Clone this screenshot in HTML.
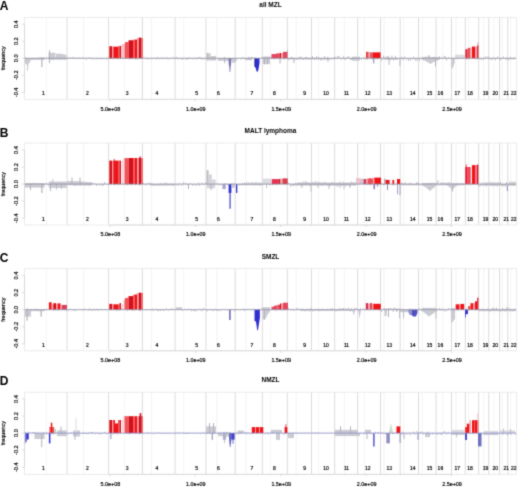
<!DOCTYPE html><html><head><meta charset="utf-8"><style>html,body{margin:0;padding:0;background:#fff;width:520px;height:490px;overflow:hidden}svg{display:block}text{font-family:"Liberation Sans",sans-serif}</style></head><body>
<svg width="520" height="490" viewBox="0 0 520 490">
<defs><filter id="b" x="0" y="0" width="520" height="490" filterUnits="userSpaceOnUse" color-interpolation-filters="sRGB"><feConvolveMatrix order="3" kernelMatrix="0.0225 0.1050 0.0225 0.1050 0.4900 0.1050 0.0225 0.1050 0.0225" divisor="1" edgeMode="duplicate" preserveAlpha="true"/></filter></defs><g filter="url(#b)">
<rect width="520" height="490" fill="#fff"/>
<g>
<line x1="46.35" y1="17.35" x2="46.35" y2="99.33" stroke="#efefef" stroke-width="0.7"/>
<line x1="83.5" y1="17.35" x2="83.5" y2="99.33" stroke="#efefef" stroke-width="0.7"/>
<line x1="124.64" y1="17.35" x2="124.64" y2="99.33" stroke="#efefef" stroke-width="0.7"/>
<line x1="151.5" y1="17.35" x2="151.5" y2="99.33" stroke="#efefef" stroke-width="0.7"/>
<line x1="183.8" y1="17.35" x2="183.8" y2="99.33" stroke="#efefef" stroke-width="0.7"/>
<line x1="216.9" y1="17.35" x2="216.9" y2="99.33" stroke="#efefef" stroke-width="0.7"/>
<line x1="245.9" y1="17.35" x2="245.9" y2="99.33" stroke="#efefef" stroke-width="0.7"/>
<line x1="270.65" y1="17.35" x2="270.65" y2="99.33" stroke="#efefef" stroke-width="0.7"/>
<line x1="296.2" y1="17.35" x2="296.2" y2="99.33" stroke="#efefef" stroke-width="0.7"/>
<line x1="318.85" y1="17.35" x2="318.85" y2="99.33" stroke="#efefef" stroke-width="0.7"/>
<line x1="344.3" y1="17.35" x2="344.3" y2="99.33" stroke="#efefef" stroke-width="0.7"/>
<line x1="364.3" y1="17.35" x2="364.3" y2="99.33" stroke="#efefef" stroke-width="0.7"/>
<line x1="384.1" y1="17.35" x2="384.1" y2="99.33" stroke="#efefef" stroke-width="0.7"/>
<line x1="403.7" y1="17.35" x2="403.7" y2="99.33" stroke="#efefef" stroke-width="0.7"/>
<line x1="422.3" y1="17.35" x2="422.3" y2="99.33" stroke="#efefef" stroke-width="0.7"/>
<line x1="442.8" y1="17.35" x2="442.8" y2="99.33" stroke="#efefef" stroke-width="0.7"/>
<line x1="456.1" y1="17.35" x2="456.1" y2="99.33" stroke="#efefef" stroke-width="0.7"/>
<line x1="468.8" y1="17.35" x2="468.8" y2="99.33" stroke="#efefef" stroke-width="0.7"/>
<line x1="483.7" y1="17.35" x2="483.7" y2="99.33" stroke="#efefef" stroke-width="0.7"/>
<line x1="494" y1="17.35" x2="494" y2="99.33" stroke="#efefef" stroke-width="0.7"/>
<line x1="502.3" y1="17.35" x2="502.3" y2="99.33" stroke="#efefef" stroke-width="0.7"/>
<line x1="510.8" y1="17.35" x2="510.8" y2="99.33" stroke="#efefef" stroke-width="0.7"/>
<line x1="67.07" y1="17.35" x2="67.07" y2="99.33" stroke="#d2d2d2" stroke-width="0.8"/>
<line x1="108.6" y1="17.35" x2="108.6" y2="99.33" stroke="#d2d2d2" stroke-width="0.8"/>
<line x1="142.4" y1="17.35" x2="142.4" y2="99.33" stroke="#d2d2d2" stroke-width="0.8"/>
<line x1="175.06" y1="17.35" x2="175.06" y2="99.33" stroke="#d2d2d2" stroke-width="0.8"/>
<line x1="205.96" y1="17.35" x2="205.96" y2="99.33" stroke="#d2d2d2" stroke-width="0.8"/>
<line x1="235.19" y1="17.35" x2="235.19" y2="99.33" stroke="#d2d2d2" stroke-width="0.8"/>
<line x1="262.36" y1="17.35" x2="262.36" y2="99.33" stroke="#d2d2d2" stroke-width="0.8"/>
<line x1="287.36" y1="17.35" x2="287.36" y2="99.33" stroke="#d2d2d2" stroke-width="0.8"/>
<line x1="311.48" y1="17.35" x2="311.48" y2="99.33" stroke="#d2d2d2" stroke-width="0.8"/>
<line x1="334.63" y1="17.35" x2="334.63" y2="99.33" stroke="#d2d2d2" stroke-width="0.8"/>
<line x1="357.68" y1="17.35" x2="357.68" y2="99.33" stroke="#d2d2d2" stroke-width="0.8"/>
<line x1="380.54" y1="17.35" x2="380.54" y2="99.33" stroke="#d2d2d2" stroke-width="0.8"/>
<line x1="400.21" y1="17.35" x2="400.21" y2="99.33" stroke="#d2d2d2" stroke-width="0.8"/>
<line x1="418.54" y1="17.35" x2="418.54" y2="99.33" stroke="#d2d2d2" stroke-width="0.8"/>
<line x1="436.05" y1="17.35" x2="436.05" y2="99.33" stroke="#d2d2d2" stroke-width="0.8"/>
<line x1="451.48" y1="17.35" x2="451.48" y2="99.33" stroke="#d2d2d2" stroke-width="0.8"/>
<line x1="465.34" y1="17.35" x2="465.34" y2="99.33" stroke="#d2d2d2" stroke-width="0.8"/>
<line x1="478.68" y1="17.35" x2="478.68" y2="99.33" stroke="#d2d2d2" stroke-width="0.8"/>
<line x1="488.78" y1="17.35" x2="488.78" y2="99.33" stroke="#d2d2d2" stroke-width="0.8"/>
<line x1="499.54" y1="17.35" x2="499.54" y2="99.33" stroke="#d2d2d2" stroke-width="0.8"/>
<line x1="507.76" y1="17.35" x2="507.76" y2="99.33" stroke="#d2d2d2" stroke-width="0.8"/>
<rect x="25.3" y="57.17" width="0.7" height="1.08" fill="#a4a4b4"/>
<rect x="26.93" y="58.25" width="0.7" height="0.65" fill="#a4a4b4"/>
<rect x="29.51" y="58.25" width="0.7" height="0.97" fill="#a4a4b4"/>
<rect x="31.84" y="58.25" width="0.7" height="1.37" fill="#a4a4b4"/>
<rect x="33.48" y="58.25" width="0.7" height="1.16" fill="#a4a4b4"/>
<rect x="35.4" y="58.25" width="0.7" height="0.63" fill="#a4a4b4"/>
<rect x="36.97" y="58.25" width="0.7" height="1.42" fill="#a4a4b4"/>
<rect x="38.69" y="57.29" width="0.7" height="0.96" fill="#a4a4b4"/>
<rect x="40.47" y="57.25" width="0.7" height="1" fill="#a4a4b4"/>
<rect x="41.99" y="57.22" width="0.7" height="1.03" fill="#a4a4b4"/>
<rect x="43.35" y="57.55" width="0.7" height="0.7" fill="#a4a4b4"/>
<rect x="45.95" y="57.4" width="0.7" height="0.85" fill="#a4a4b4"/>
<rect x="48.53" y="57.08" width="0.7" height="1.17" fill="#a4a4b4"/>
<rect x="50.09" y="56.8" width="0.7" height="1.45" fill="#a4a4b4"/>
<rect x="51.33" y="56.98" width="0.7" height="1.27" fill="#a4a4b4"/>
<rect x="53.48" y="57.02" width="0.7" height="1.23" fill="#a4a4b4"/>
<rect x="55.27" y="57.57" width="0.7" height="0.68" fill="#a4a4b4"/>
<rect x="56.73" y="56.97" width="0.7" height="1.28" fill="#a4a4b4"/>
<rect x="59" y="58.25" width="0.7" height="1.46" fill="#a4a4b4"/>
<rect x="60.37" y="57.41" width="0.7" height="0.84" fill="#a4a4b4"/>
<rect x="61.8" y="57.47" width="0.7" height="0.78" fill="#a4a4b4"/>
<rect x="63.1" y="57.54" width="0.7" height="0.71" fill="#a4a4b4"/>
<rect x="65.06" y="58.25" width="0.7" height="1.43" fill="#a4a4b4"/>
<rect x="67.87" y="57.05" width="0.7" height="1.2" fill="#a4a4b4"/>
<rect x="70.11" y="57.18" width="0.7" height="1.07" fill="#a4a4b4"/>
<rect x="72.08" y="57.01" width="0.7" height="1.24" fill="#a4a4b4"/>
<rect x="73.72" y="57.3" width="0.7" height="0.95" fill="#a4a4b4"/>
<rect x="75.61" y="58.25" width="0.7" height="0.86" fill="#a4a4b4"/>
<rect x="77.7" y="57.27" width="0.7" height="0.98" fill="#a4a4b4"/>
<rect x="79.2" y="58.25" width="0.7" height="0.66" fill="#a4a4b4"/>
<rect x="81.05" y="57.48" width="0.7" height="0.77" fill="#a4a4b4"/>
<rect x="83.23" y="57.25" width="0.7" height="1" fill="#a4a4b4"/>
<rect x="85.78" y="58.25" width="0.7" height="1.3" fill="#a4a4b4"/>
<rect x="88.07" y="57.56" width="0.7" height="0.69" fill="#a4a4b4"/>
<rect x="90.21" y="57.47" width="0.7" height="0.78" fill="#a4a4b4"/>
<rect x="91.86" y="58.25" width="0.7" height="1.06" fill="#a4a4b4"/>
<rect x="93.62" y="58.25" width="0.7" height="1.09" fill="#a4a4b4"/>
<rect x="95.93" y="58.25" width="0.7" height="1.02" fill="#a4a4b4"/>
<rect x="97.21" y="58.25" width="0.7" height="0.68" fill="#a4a4b4"/>
<rect x="98.71" y="58.25" width="0.7" height="1.19" fill="#a4a4b4"/>
<rect x="101.19" y="58.25" width="0.7" height="1.2" fill="#a4a4b4"/>
<rect x="103.58" y="58.25" width="0.7" height="0.84" fill="#a4a4b4"/>
<rect x="106.07" y="58.25" width="0.7" height="1.14" fill="#a4a4b4"/>
<rect x="109.4" y="58.25" width="0.7" height="0.72" fill="#a4a4b4"/>
<rect x="111.08" y="58.25" width="0.7" height="0.74" fill="#a4a4b4"/>
<rect x="112.32" y="58.25" width="0.7" height="0.93" fill="#a4a4b4"/>
<rect x="113.8" y="57.64" width="0.7" height="0.61" fill="#a4a4b4"/>
<rect x="115.72" y="57.14" width="0.7" height="1.11" fill="#a4a4b4"/>
<rect x="117.91" y="58.25" width="0.7" height="1.19" fill="#a4a4b4"/>
<rect x="120.08" y="58.25" width="0.7" height="0.65" fill="#a4a4b4"/>
<rect x="122.43" y="56.94" width="0.7" height="1.31" fill="#a4a4b4"/>
<rect x="124.36" y="57.62" width="0.7" height="0.63" fill="#a4a4b4"/>
<rect x="126.15" y="58.25" width="0.7" height="0.55" fill="#a4a4b4"/>
<rect x="128.19" y="58.25" width="0.7" height="0.59" fill="#a4a4b4"/>
<rect x="129.7" y="58.25" width="0.7" height="1.25" fill="#a4a4b4"/>
<rect x="130.91" y="56.92" width="0.7" height="1.33" fill="#a4a4b4"/>
<rect x="133.14" y="56.94" width="0.7" height="1.31" fill="#a4a4b4"/>
<rect x="134.99" y="58.25" width="0.7" height="1.28" fill="#a4a4b4"/>
<rect x="137.35" y="58.25" width="0.7" height="1.32" fill="#a4a4b4"/>
<rect x="139.15" y="56.99" width="0.7" height="1.26" fill="#a4a4b4"/>
<rect x="140.66" y="57.05" width="0.7" height="1.2" fill="#a4a4b4"/>
<rect x="143.2" y="57.54" width="0.7" height="0.71" fill="#a4a4b4"/>
<rect x="144.74" y="57.67" width="0.7" height="0.58" fill="#a4a4b4"/>
<rect x="147.13" y="58.25" width="0.7" height="1.27" fill="#a4a4b4"/>
<rect x="149.37" y="58.25" width="0.7" height="0.91" fill="#a4a4b4"/>
<rect x="151.5" y="58.25" width="0.7" height="1.13" fill="#a4a4b4"/>
<rect x="153.76" y="57.69" width="0.7" height="0.56" fill="#a4a4b4"/>
<rect x="155.61" y="58.25" width="0.7" height="1.18" fill="#a4a4b4"/>
<rect x="157.44" y="56.92" width="0.7" height="1.33" fill="#a4a4b4"/>
<rect x="158.93" y="58.25" width="0.7" height="0.91" fill="#a4a4b4"/>
<rect x="161.2" y="57.28" width="0.7" height="0.97" fill="#a4a4b4"/>
<rect x="162.59" y="58.25" width="0.7" height="0.83" fill="#a4a4b4"/>
<rect x="164.19" y="57.68" width="0.7" height="0.57" fill="#a4a4b4"/>
<rect x="166.35" y="57.28" width="0.7" height="0.97" fill="#a4a4b4"/>
<rect x="167.74" y="58.25" width="0.7" height="1.25" fill="#a4a4b4"/>
<rect x="170.11" y="57.66" width="0.7" height="0.59" fill="#a4a4b4"/>
<rect x="172.61" y="57.38" width="0.7" height="0.87" fill="#a4a4b4"/>
<rect x="175.86" y="56.78" width="0.7" height="1.47" fill="#a4a4b4"/>
<rect x="177.81" y="58.25" width="0.7" height="1.26" fill="#a4a4b4"/>
<rect x="179.54" y="58.25" width="0.7" height="0.73" fill="#a4a4b4"/>
<rect x="181.47" y="58.25" width="0.7" height="1.46" fill="#a4a4b4"/>
<rect x="182.77" y="58.25" width="0.7" height="1.2" fill="#a4a4b4"/>
<rect x="184.53" y="58.25" width="0.7" height="0.63" fill="#a4a4b4"/>
<rect x="185.99" y="58.25" width="0.7" height="1.44" fill="#a4a4b4"/>
<rect x="187.56" y="58.25" width="0.7" height="1.41" fill="#a4a4b4"/>
<rect x="188.88" y="57.27" width="0.7" height="0.98" fill="#a4a4b4"/>
<rect x="190.95" y="58.25" width="0.7" height="0.75" fill="#a4a4b4"/>
<rect x="192.77" y="58.25" width="0.7" height="1.16" fill="#a4a4b4"/>
<rect x="194.59" y="57.48" width="0.7" height="0.77" fill="#a4a4b4"/>
<rect x="196.28" y="58.25" width="0.7" height="1.28" fill="#a4a4b4"/>
<rect x="198.22" y="57.04" width="0.7" height="1.21" fill="#a4a4b4"/>
<rect x="199.74" y="56.89" width="0.7" height="1.36" fill="#a4a4b4"/>
<rect x="201.09" y="58.25" width="0.7" height="1.47" fill="#a4a4b4"/>
<rect x="203.23" y="58.25" width="0.7" height="1.38" fill="#a4a4b4"/>
<rect x="204.67" y="58.25" width="0.7" height="0.73" fill="#a4a4b4"/>
<rect x="206.76" y="58.25" width="0.7" height="1.26" fill="#a4a4b4"/>
<rect x="208.56" y="57.52" width="0.7" height="0.73" fill="#a4a4b4"/>
<rect x="210.71" y="58.25" width="0.7" height="1.01" fill="#a4a4b4"/>
<rect x="212.67" y="58.25" width="0.7" height="0.99" fill="#a4a4b4"/>
<rect x="214.65" y="58.25" width="0.7" height="0.72" fill="#a4a4b4"/>
<rect x="217.13" y="58.25" width="0.7" height="0.95" fill="#a4a4b4"/>
<rect x="218.99" y="58.25" width="0.7" height="1.47" fill="#a4a4b4"/>
<rect x="221.49" y="58.25" width="0.7" height="1.11" fill="#a4a4b4"/>
<rect x="222.93" y="58.25" width="0.7" height="0.89" fill="#a4a4b4"/>
<rect x="224.3" y="57" width="0.7" height="1.25" fill="#a4a4b4"/>
<rect x="225.52" y="58.25" width="0.7" height="1.34" fill="#a4a4b4"/>
<rect x="227.27" y="58.25" width="0.7" height="0.7" fill="#a4a4b4"/>
<rect x="228.54" y="58.25" width="0.7" height="1.32" fill="#a4a4b4"/>
<rect x="230.43" y="58.25" width="0.7" height="1.08" fill="#a4a4b4"/>
<rect x="232.54" y="58.25" width="0.7" height="0.67" fill="#a4a4b4"/>
<rect x="235.99" y="58.25" width="0.7" height="1.39" fill="#a4a4b4"/>
<rect x="238.04" y="58.25" width="0.7" height="0.61" fill="#a4a4b4"/>
<rect x="240.52" y="58.25" width="0.7" height="1.45" fill="#a4a4b4"/>
<rect x="242.67" y="56.93" width="0.7" height="1.32" fill="#a4a4b4"/>
<rect x="243.95" y="58.25" width="0.7" height="0.82" fill="#a4a4b4"/>
<rect x="245.75" y="58.25" width="0.7" height="1.09" fill="#a4a4b4"/>
<rect x="248.15" y="57.12" width="0.7" height="1.13" fill="#a4a4b4"/>
<rect x="249.75" y="56.95" width="0.7" height="1.3" fill="#a4a4b4"/>
<rect x="251.12" y="57.17" width="0.7" height="1.08" fill="#a4a4b4"/>
<rect x="252.43" y="57.19" width="0.7" height="1.06" fill="#a4a4b4"/>
<rect x="254.79" y="57.29" width="0.7" height="0.96" fill="#a4a4b4"/>
<rect x="256.96" y="58.25" width="0.7" height="0.74" fill="#a4a4b4"/>
<rect x="258.25" y="58.25" width="0.7" height="1.03" fill="#a4a4b4"/>
<rect x="260.73" y="57.33" width="0.7" height="0.92" fill="#a4a4b4"/>
<rect x="263.16" y="57.17" width="0.7" height="1.08" fill="#a4a4b4"/>
<rect x="265.63" y="57.29" width="0.7" height="0.96" fill="#a4a4b4"/>
<rect x="267.3" y="58.25" width="0.7" height="0.99" fill="#a4a4b4"/>
<rect x="268.76" y="58.25" width="0.7" height="0.88" fill="#a4a4b4"/>
<rect x="271.3" y="56.97" width="0.7" height="1.28" fill="#a4a4b4"/>
<rect x="272.63" y="58.25" width="0.7" height="0.77" fill="#a4a4b4"/>
<rect x="274.09" y="58.25" width="0.7" height="1.35" fill="#a4a4b4"/>
<rect x="276.58" y="58.25" width="0.7" height="0.68" fill="#a4a4b4"/>
<rect x="279.09" y="58.25" width="0.7" height="1.31" fill="#a4a4b4"/>
<rect x="280.36" y="57.26" width="0.7" height="0.99" fill="#a4a4b4"/>
<rect x="281.91" y="58.25" width="0.7" height="1.13" fill="#a4a4b4"/>
<rect x="284.36" y="58.25" width="0.7" height="1.33" fill="#a4a4b4"/>
<rect x="285.93" y="57.09" width="0.7" height="1.16" fill="#a4a4b4"/>
<rect x="288.16" y="58.25" width="0.7" height="2.03" fill="#a4a4b4"/>
<rect x="290.56" y="56.93" width="0.7" height="1.32" fill="#a4a4b4"/>
<rect x="291.9" y="56.9" width="0.7" height="1.35" fill="#a4a4b4"/>
<rect x="293.72" y="58.25" width="0.7" height="2.13" fill="#a4a4b4"/>
<rect x="296.13" y="58.25" width="0.7" height="0.99" fill="#a4a4b4"/>
<rect x="297.56" y="58.25" width="0.7" height="1.2" fill="#a4a4b4"/>
<rect x="299.37" y="56.59" width="0.7" height="1.66" fill="#a4a4b4"/>
<rect x="300.83" y="56.72" width="0.7" height="1.53" fill="#a4a4b4"/>
<rect x="303.17" y="58.25" width="0.7" height="1.72" fill="#a4a4b4"/>
<rect x="305.21" y="57.04" width="0.7" height="1.21" fill="#a4a4b4"/>
<rect x="306.57" y="57.13" width="0.7" height="1.12" fill="#a4a4b4"/>
<rect x="307.85" y="58.25" width="0.7" height="1.43" fill="#a4a4b4"/>
<rect x="310.42" y="58.25" width="0.7" height="1.09" fill="#a4a4b4"/>
<rect x="312.28" y="56.01" width="0.7" height="2.24" fill="#a4a4b4"/>
<rect x="314.51" y="58.25" width="0.7" height="1.53" fill="#a4a4b4"/>
<rect x="316.06" y="56.21" width="0.7" height="2.04" fill="#a4a4b4"/>
<rect x="318.35" y="56.9" width="0.7" height="1.35" fill="#a4a4b4"/>
<rect x="320.24" y="58.25" width="0.7" height="2.22" fill="#a4a4b4"/>
<rect x="321.77" y="58.25" width="0.7" height="2.17" fill="#a4a4b4"/>
<rect x="324.05" y="56" width="0.7" height="2.25" fill="#a4a4b4"/>
<rect x="325.62" y="58.25" width="0.7" height="1.91" fill="#a4a4b4"/>
<rect x="327.44" y="56.82" width="0.7" height="1.43" fill="#a4a4b4"/>
<rect x="328.72" y="58.25" width="0.7" height="1.61" fill="#a4a4b4"/>
<rect x="330.57" y="58.25" width="0.7" height="1.4" fill="#a4a4b4"/>
<rect x="332.57" y="58.25" width="0.7" height="1.26" fill="#a4a4b4"/>
<rect x="333.77" y="56.76" width="0.7" height="1.49" fill="#a4a4b4"/>
<rect x="335.43" y="57.18" width="0.7" height="1.07" fill="#a4a4b4"/>
<rect x="337.28" y="56.16" width="0.7" height="2.09" fill="#a4a4b4"/>
<rect x="338.69" y="56.1" width="0.7" height="2.15" fill="#a4a4b4"/>
<rect x="340.98" y="58.25" width="0.7" height="1.61" fill="#a4a4b4"/>
<rect x="343.3" y="56.3" width="0.7" height="1.95" fill="#a4a4b4"/>
<rect x="344.68" y="58.25" width="0.7" height="2" fill="#a4a4b4"/>
<rect x="346.77" y="56.8" width="0.7" height="1.45" fill="#a4a4b4"/>
<rect x="348.42" y="56.13" width="0.7" height="2.12" fill="#a4a4b4"/>
<rect x="350.03" y="58.25" width="0.7" height="1.63" fill="#a4a4b4"/>
<rect x="351.3" y="58.25" width="0.7" height="1.67" fill="#a4a4b4"/>
<rect x="353.51" y="58.25" width="0.7" height="1.34" fill="#a4a4b4"/>
<rect x="355.01" y="56.66" width="0.7" height="1.59" fill="#a4a4b4"/>
<rect x="358.48" y="58.25" width="0.7" height="1.33" fill="#a4a4b4"/>
<rect x="361.04" y="58.25" width="0.7" height="1.41" fill="#a4a4b4"/>
<rect x="363.54" y="57.06" width="0.7" height="1.19" fill="#a4a4b4"/>
<rect x="364.93" y="58.25" width="0.7" height="1.41" fill="#a4a4b4"/>
<rect x="366.82" y="58.25" width="0.7" height="1.72" fill="#a4a4b4"/>
<rect x="368.84" y="56.88" width="0.7" height="1.37" fill="#a4a4b4"/>
<rect x="370.13" y="56.65" width="0.7" height="1.6" fill="#a4a4b4"/>
<rect x="371.98" y="58.25" width="0.7" height="1.72" fill="#a4a4b4"/>
<rect x="374.26" y="56.56" width="0.7" height="1.69" fill="#a4a4b4"/>
<rect x="375.53" y="58.25" width="0.7" height="1.06" fill="#a4a4b4"/>
<rect x="377.38" y="58.25" width="0.7" height="1.46" fill="#a4a4b4"/>
<rect x="378.67" y="57.18" width="0.7" height="1.07" fill="#a4a4b4"/>
<rect x="381.34" y="58.25" width="0.7" height="2.67" fill="#a4a4b4"/>
<rect x="383.09" y="55.73" width="0.7" height="2.52" fill="#a4a4b4"/>
<rect x="385.59" y="56.27" width="0.7" height="1.98" fill="#a4a4b4"/>
<rect x="386.88" y="56.62" width="0.7" height="1.63" fill="#a4a4b4"/>
<rect x="388.25" y="55.99" width="0.7" height="2.26" fill="#a4a4b4"/>
<rect x="389.78" y="58.25" width="0.7" height="1.97" fill="#a4a4b4"/>
<rect x="391.58" y="55.58" width="0.7" height="2.67" fill="#a4a4b4"/>
<rect x="393.47" y="58.25" width="0.7" height="2.12" fill="#a4a4b4"/>
<rect x="394.98" y="55.82" width="0.7" height="2.43" fill="#a4a4b4"/>
<rect x="397.27" y="58.25" width="0.7" height="1.83" fill="#a4a4b4"/>
<rect x="401.01" y="56.92" width="0.7" height="1.33" fill="#a4a4b4"/>
<rect x="402.69" y="58.25" width="0.7" height="2" fill="#a4a4b4"/>
<rect x="403.98" y="56.65" width="0.7" height="1.6" fill="#a4a4b4"/>
<rect x="405.94" y="58.25" width="0.7" height="1.35" fill="#a4a4b4"/>
<rect x="408.04" y="58.25" width="0.7" height="2.63" fill="#a4a4b4"/>
<rect x="409.94" y="58.25" width="0.7" height="2.54" fill="#a4a4b4"/>
<rect x="411.95" y="58.25" width="0.7" height="1.28" fill="#a4a4b4"/>
<rect x="413.43" y="56.62" width="0.7" height="1.63" fill="#a4a4b4"/>
<rect x="414.73" y="58.25" width="0.7" height="2.54" fill="#a4a4b4"/>
<rect x="416.63" y="58.25" width="0.7" height="2.98" fill="#a4a4b4"/>
<rect x="419.34" y="58.25" width="0.7" height="2.34" fill="#a4a4b4"/>
<rect x="421.77" y="58.25" width="0.7" height="1.44" fill="#a4a4b4"/>
<rect x="423.44" y="58.25" width="0.7" height="2.26" fill="#a4a4b4"/>
<rect x="425.49" y="56.35" width="0.7" height="1.9" fill="#a4a4b4"/>
<rect x="427.89" y="55.46" width="0.7" height="2.79" fill="#a4a4b4"/>
<rect x="429.25" y="55.49" width="0.7" height="2.76" fill="#a4a4b4"/>
<rect x="431.81" y="58.25" width="0.7" height="1.84" fill="#a4a4b4"/>
<rect x="433.66" y="56.36" width="0.7" height="1.89" fill="#a4a4b4"/>
<rect x="436.85" y="58.25" width="0.7" height="2.29" fill="#a4a4b4"/>
<rect x="439.05" y="56.2" width="0.7" height="2.05" fill="#a4a4b4"/>
<rect x="441.44" y="57.25" width="0.7" height="1" fill="#a4a4b4"/>
<rect x="443.72" y="55.9" width="0.7" height="2.35" fill="#a4a4b4"/>
<rect x="444.99" y="56.53" width="0.7" height="1.72" fill="#a4a4b4"/>
<rect x="446.47" y="58.25" width="0.7" height="2.29" fill="#a4a4b4"/>
<rect x="448.52" y="57.2" width="0.7" height="1.05" fill="#a4a4b4"/>
<rect x="452.28" y="58.25" width="0.7" height="0.88" fill="#a4a4b4"/>
<rect x="453.75" y="58.25" width="0.7" height="0.89" fill="#a4a4b4"/>
<rect x="456.16" y="58.25" width="0.7" height="0.65" fill="#a4a4b4"/>
<rect x="457.67" y="58.25" width="0.7" height="1.12" fill="#a4a4b4"/>
<rect x="460.04" y="56.78" width="0.7" height="1.47" fill="#a4a4b4"/>
<rect x="461.86" y="56.91" width="0.7" height="1.34" fill="#a4a4b4"/>
<rect x="463.11" y="58.25" width="0.7" height="0.72" fill="#a4a4b4"/>
<rect x="466.14" y="58.25" width="0.7" height="1.19" fill="#a4a4b4"/>
<rect x="467.73" y="58.25" width="0.7" height="1.36" fill="#a4a4b4"/>
<rect x="469.39" y="56.83" width="0.7" height="1.42" fill="#a4a4b4"/>
<rect x="471.45" y="57.41" width="0.7" height="0.84" fill="#a4a4b4"/>
<rect x="472.91" y="56.92" width="0.7" height="1.33" fill="#a4a4b4"/>
<rect x="474.71" y="58.25" width="0.7" height="0.67" fill="#a4a4b4"/>
<rect x="476.12" y="58.25" width="0.7" height="1.47" fill="#a4a4b4"/>
<rect x="477.37" y="57.21" width="0.7" height="1.04" fill="#a4a4b4"/>
<rect x="479.48" y="58.25" width="0.7" height="1.03" fill="#a4a4b4"/>
<rect x="480.89" y="58.25" width="0.7" height="1.94" fill="#a4a4b4"/>
<rect x="483.4" y="58.25" width="0.7" height="1.63" fill="#a4a4b4"/>
<rect x="485.1" y="56.48" width="0.7" height="1.77" fill="#a4a4b4"/>
<rect x="487.62" y="56.14" width="0.7" height="2.11" fill="#a4a4b4"/>
<rect x="489.58" y="58.25" width="0.7" height="1.33" fill="#a4a4b4"/>
<rect x="491.59" y="58.25" width="0.7" height="2.08" fill="#a4a4b4"/>
<rect x="493" y="57.32" width="0.7" height="0.93" fill="#a4a4b4"/>
<rect x="494.9" y="58.25" width="0.7" height="2.13" fill="#a4a4b4"/>
<rect x="497.04" y="56.48" width="0.7" height="1.77" fill="#a4a4b4"/>
<rect x="500.34" y="58.25" width="0.7" height="2.07" fill="#a4a4b4"/>
<rect x="502.86" y="56.48" width="0.7" height="1.77" fill="#a4a4b4"/>
<rect x="505.2" y="58.25" width="0.7" height="1.2" fill="#a4a4b4"/>
<rect x="506.54" y="58.25" width="0.7" height="1.66" fill="#a4a4b4"/>
<rect x="508.56" y="58.25" width="0.7" height="2.07" fill="#a4a4b4"/>
<rect x="509.85" y="57.1" width="0.7" height="1.15" fill="#a4a4b4"/>
<rect x="511.48" y="58.25" width="0.7" height="1.21" fill="#a4a4b4"/>
<rect x="513.43" y="58.25" width="0.7" height="1.6" fill="#a4a4b4"/>
<rect x="514.67" y="57.33" width="0.7" height="0.92" fill="#a4a4b4"/>
<polygon points="24.5,58.25 24.5,61.75 25.5,63.75 26.8,64.75 27.2,70.95 27.9,70.95 28.3,64.25 30,61.75 31,60.25 31,58.25" fill="#cbcbd3"/>
<rect x="31" y="58.25" width="14" height="1.6" fill="#cbcbd3"/>
<rect x="41.3" y="58.25" width="1.2" height="8.9" fill="#b4b4c0"/>
<rect x="48.5" y="52.75" width="7" height="5.5" fill="#cbcbd3"/>
<rect x="49" y="50.25" width="1" height="8" fill="#b4b4c0"/>
<rect x="48.5" y="58.25" width="7" height="1.8" fill="#cbcbd3"/>
<rect x="49" y="58.25" width="1" height="5" fill="#b4b4c0"/>
<polygon points="56,58.25 56,53.65 61,53.85 66.6,55.05 66.6,58.25" fill="#cbcbd3"/>
<rect x="56" y="58.25" width="10.6" height="1.5" fill="#cbcbd3"/>
<rect x="206.3" y="53.25" width="4.3" height="5" fill="#cbcbd3"/>
<rect x="207.2" y="52.75" width="0.7" height="5.5" fill="#b4b4c0"/>
<rect x="210.6" y="56.05" width="5.4" height="2.2" fill="#cbcbd3"/>
<rect x="206" y="58.25" width="10" height="2.2" fill="#cbcbd3"/>
<rect x="218" y="58.25" width="19" height="2.6" fill="#cbcbd3"/>
<rect x="224.3" y="58.25" width="1" height="5" fill="#b4b4c0"/>
<polygon points="228.6,58.25 228.6,63.25 229.3,67.25 229.6,71.95 230.3,71.95 230.6,67.25 231.2,63.25 231.2,58.25" fill="#7878b4"/>
<rect x="232" y="58.25" width="4" height="4.5" fill="#cbcbd3"/>
<rect x="245" y="58.25" width="7" height="2" fill="#cbcbd3"/>
<polygon points="254.6,58.25 254.6,66.55 255.8,68.25 256.5,71.25 257.3,71.95 258.3,70.25 259,66.25 259.5,63.25 259.5,58.25" fill="#3030d0"/>
<rect x="254.6" y="58.25" width="1.2" height="8.3" fill="#2828a0"/>
<rect x="262.5" y="56.45" width="8.5" height="1.8" fill="#cbcbd3"/>
<rect x="262.5" y="58.25" width="7.5" height="5.8" fill="#cbcbd3"/>
<rect x="264" y="58.25" width="1" height="6.2" fill="#b4b4c0"/>
<rect x="267" y="58.25" width="1" height="6" fill="#b4b4c0"/>
<rect x="271.5" y="54.05" width="4.5" height="4.2" fill="#e4485e"/>
<rect x="276" y="53.45" width="3.6" height="4.8" fill="#e4485e"/>
<rect x="279.6" y="52.95" width="1.4" height="5.3" fill="#d2101c"/>
<rect x="281" y="52.95" width="2" height="5.3" fill="#f6a0a6"/>
<rect x="283" y="51.85" width="5" height="6.4" fill="#e4485e"/>
<rect x="287.2" y="49.55" width="0.7" height="8.7" fill="#b4b4c0"/>
<rect x="279.6" y="58.25" width="1" height="5.4" fill="#b4b4c0"/>
<rect x="293.5" y="58.25" width="1" height="4.7" fill="#b4b4c0"/>
<rect x="288" y="58.25" width="42" height="1.2" fill="#cbcbd3"/>
<rect x="327.5" y="58.25" width="1" height="3.5" fill="#b4b4c0"/>
<rect x="352" y="58.25" width="8" height="2.5" fill="#cbcbd3"/>
<rect x="352" y="56.75" width="8" height="1.5" fill="#cbcbd3"/>
<rect x="366.2" y="51.85" width="1.2" height="6.4" fill="#d2101c"/>
<rect x="367.4" y="51.85" width="1.2" height="6.4" fill="#f01418"/>
<rect x="368.6" y="52.35" width="1.4" height="5.9" fill="#f0a8a8"/>
<rect x="370" y="52.35" width="3" height="5.9" fill="#e85868"/>
<rect x="373" y="52.35" width="7.6" height="5.9" fill="#f01418"/>
<rect x="373.2" y="58.25" width="1.1" height="5.2" fill="#8c8cbc"/>
<rect x="383" y="58.25" width="15" height="1.5" fill="#cbcbd3"/>
<rect x="388.5" y="58.25" width="1" height="6.5" fill="#b4b4c0"/>
<rect x="399.5" y="58.25" width="1" height="7.6" fill="#b4b4c0"/>
<rect x="422" y="57.05" width="18" height="1.2" fill="#cbcbd3"/>
<polygon points="421.9,58.25 421.9,59.25 426,61.25 430.3,64.05 434,61.75 440.4,59.25 440.4,58.25" fill="#cbcbd3"/>
<rect x="435" y="58.25" width="1" height="8" fill="#b4b4c0"/>
<polygon points="451,58.25 451,67.75 452.5,68.75 454.7,62.75 454.7,58.25" fill="#cbcbd3"/>
<rect x="455" y="54.65" width="10" height="3.6" fill="#dcdce2"/>
<rect x="465.3" y="49.25" width="2.4" height="9" fill="#e4283c"/>
<rect x="467.7" y="47.85" width="3" height="10.4" fill="#e8505e"/>
<rect x="470.7" y="47.75" width="1.2" height="10.5" fill="#f8dada"/>
<rect x="471.9" y="46.55" width="3.1" height="11.7" fill="#f01418"/>
<rect x="475" y="46.55" width="2" height="11.7" fill="#f6a0a6"/>
<rect x="477" y="45.45" width="1.4" height="12.8" fill="#d2101c"/>
<rect x="477.6" y="42.25" width="0.7" height="16" fill="#e07080"/>
<rect x="108.9" y="46.25" width="0.5" height="12" fill="#f6a0a6"/>
<rect x="109.4" y="46.25" width="2.6" height="12" fill="#d2101c"/>
<rect x="112" y="46.25" width="1.3" height="12" fill="#f6a0a6"/>
<rect x="113.3" y="46.65" width="4.7" height="11.6" fill="#f01418"/>
<rect x="118" y="46.25" width="1.5" height="12" fill="#f05458"/>
<rect x="119.5" y="45.95" width="1.5" height="12.3" fill="#d2101c"/>
<rect x="121" y="44.45" width="1.4" height="13.8" fill="#f8caca"/>
<rect x="122.4" y="44.45" width="0.6" height="13.8" fill="#f6a0a6"/>
<rect x="123" y="44.45" width="0.7" height="13.8" fill="#f8caca"/>
<rect x="123.7" y="43.75" width="1.3" height="14.5" fill="#f6a0a6"/>
<rect x="125" y="42.05" width="3.5" height="16.2" fill="#f05458"/>
<rect x="128.5" y="40.25" width="4.5" height="18" fill="#d2101c"/>
<rect x="133" y="39.75" width="1.5" height="18.5" fill="#f05458"/>
<rect x="134.5" y="39.55" width="2.5" height="18.7" fill="#f01418"/>
<rect x="137" y="38.05" width="1.7" height="20.2" fill="#f6a0a6"/>
<rect x="138.7" y="37.65" width="2.8" height="20.6" fill="#d2101c"/>
<rect x="141.5" y="38.05" width="1.3" height="20.2" fill="#f05458"/>
<line x1="24.5" y1="58.25" x2="516.5" y2="58.25" stroke="#8e8e9e" stroke-width="0.8"/>
<rect x="24.5" y="17.35" width="492" height="81.98" fill="none" stroke="#e6e6e6" stroke-width="0.8"/>
<line x1="24.5" y1="24.15" x2="24.5" y2="92.35" stroke="#d6d6d6" stroke-width="0.8"/>
<line x1="109.9" y1="99.33" x2="451.5" y2="99.33" stroke="#d6d6d6" stroke-width="0.8"/>
<line x1="21.8" y1="24.15" x2="24.5" y2="24.15" stroke="#c8c8c8" stroke-width="0.6"/>
<text transform="translate(18.1,24.15) rotate(-90)" text-anchor="middle" font-size="5.6" fill="#000" stroke="#000" stroke-width="0.18">0.4</text>
<line x1="21.8" y1="41.2" x2="24.5" y2="41.2" stroke="#c8c8c8" stroke-width="0.6"/>
<text transform="translate(18.1,41.2) rotate(-90)" text-anchor="middle" font-size="5.6" fill="#000" stroke="#000" stroke-width="0.18">0.2</text>
<line x1="21.8" y1="58.25" x2="24.5" y2="58.25" stroke="#c8c8c8" stroke-width="0.6"/>
<text transform="translate(18.1,58.25) rotate(-90)" text-anchor="middle" font-size="5.6" fill="#000" stroke="#000" stroke-width="0.18">0.0</text>
<line x1="21.8" y1="75.3" x2="24.5" y2="75.3" stroke="#c8c8c8" stroke-width="0.6"/>
<text transform="translate(18.1,75.3) rotate(-90)" text-anchor="middle" font-size="5.6" fill="#000" stroke="#000" stroke-width="0.18">-0.2</text>
<line x1="21.8" y1="92.35" x2="24.5" y2="92.35" stroke="#c8c8c8" stroke-width="0.6"/>
<text transform="translate(18.1,92.35) rotate(-90)" text-anchor="middle" font-size="5.6" fill="#000" stroke="#000" stroke-width="0.18">-0.4</text>
<text transform="translate(4.7,58.25) rotate(-90)" text-anchor="middle" font-size="5.5" fill="#000" stroke="#000" stroke-width="0.18">frequency</text>
<line x1="109.9" y1="99.33" x2="109.9" y2="101.33" stroke="#c8c8c8" stroke-width="0.6"/>
<text x="110.4" y="110.73" text-anchor="middle" font-size="5.4" fill="#000" stroke="#000" stroke-width="0.18">5.0e+08</text>
<line x1="195.3" y1="99.33" x2="195.3" y2="101.33" stroke="#c8c8c8" stroke-width="0.6"/>
<text x="195.8" y="110.73" text-anchor="middle" font-size="5.4" fill="#000" stroke="#000" stroke-width="0.18">1.0e+09</text>
<line x1="280.7" y1="99.33" x2="280.7" y2="101.33" stroke="#c8c8c8" stroke-width="0.6"/>
<text x="281.2" y="110.73" text-anchor="middle" font-size="5.4" fill="#000" stroke="#000" stroke-width="0.18">1.5e+09</text>
<line x1="366.1" y1="99.33" x2="366.1" y2="101.33" stroke="#c8c8c8" stroke-width="0.6"/>
<text x="366.6" y="110.73" text-anchor="middle" font-size="5.4" fill="#000" stroke="#000" stroke-width="0.18">2.0e+09</text>
<line x1="451.5" y1="99.33" x2="451.5" y2="101.33" stroke="#c8c8c8" stroke-width="0.6"/>
<text x="452" y="110.73" text-anchor="middle" font-size="5.4" fill="#000" stroke="#000" stroke-width="0.18">2.5e+09</text>
<text x="43.5" y="95.13" text-anchor="middle" font-size="5.0" fill="#000" stroke="#000" stroke-width="0.18">1</text>
<text x="87.5" y="95.13" text-anchor="middle" font-size="5.0" fill="#000" stroke="#000" stroke-width="0.18">2</text>
<text x="127.1" y="95.13" text-anchor="middle" font-size="5.0" fill="#000" stroke="#000" stroke-width="0.18">3</text>
<text x="156.9" y="95.13" text-anchor="middle" font-size="5.0" fill="#000" stroke="#000" stroke-width="0.18">4</text>
<text x="196.7" y="95.13" text-anchor="middle" font-size="5.0" fill="#000" stroke="#000" stroke-width="0.18">5</text>
<text x="218.3" y="95.13" text-anchor="middle" font-size="5.0" fill="#000" stroke="#000" stroke-width="0.18">6</text>
<text x="251.8" y="95.13" text-anchor="middle" font-size="5.0" fill="#000" stroke="#000" stroke-width="0.18">7</text>
<text x="274.4" y="95.13" text-anchor="middle" font-size="5.0" fill="#000" stroke="#000" stroke-width="0.18">8</text>
<text x="304.6" y="95.13" text-anchor="middle" font-size="5.0" fill="#000" stroke="#000" stroke-width="0.18">9</text>
<text x="326.1" y="95.13" text-anchor="middle" font-size="5.0" fill="#000" stroke="#000" stroke-width="0.18">10</text>
<text x="346.5" y="95.13" text-anchor="middle" font-size="5.0" fill="#000" stroke="#000" stroke-width="0.18">11</text>
<text x="367.7" y="95.13" text-anchor="middle" font-size="5.0" fill="#000" stroke="#000" stroke-width="0.18">12</text>
<text x="389.2" y="95.13" text-anchor="middle" font-size="5.0" fill="#000" stroke="#000" stroke-width="0.18">13</text>
<text x="412.7" y="95.13" text-anchor="middle" font-size="5.0" fill="#000" stroke="#000" stroke-width="0.18">14</text>
<text x="429.6" y="95.13" text-anchor="middle" font-size="5.0" fill="#000" stroke="#000" stroke-width="0.18">15</text>
<text x="440.4" y="95.13" text-anchor="middle" font-size="5.0" fill="#000" stroke="#000" stroke-width="0.18">16</text>
<text x="457.3" y="95.13" text-anchor="middle" font-size="5.0" fill="#000" stroke="#000" stroke-width="0.18">17</text>
<text x="470.1" y="95.13" text-anchor="middle" font-size="5.0" fill="#000" stroke="#000" stroke-width="0.18">18</text>
<text x="485.5" y="95.13" text-anchor="middle" font-size="5.0" fill="#000" stroke="#000" stroke-width="0.18">19</text>
<text x="495.3" y="95.13" text-anchor="middle" font-size="5.0" fill="#000" stroke="#000" stroke-width="0.18">20</text>
<text x="506.3" y="95.13" text-anchor="middle" font-size="5.0" fill="#000" stroke="#000" stroke-width="0.18">21</text>
<text x="513.7" y="95.13" text-anchor="middle" font-size="5.0" fill="#000" stroke="#000" stroke-width="0.18">22</text>
<text x="270.5" y="7.2" text-anchor="middle" font-size="6.5" font-weight="bold" fill="#000">all MZL</text>
<text x="-0.2" y="9.9" font-size="12" font-weight="bold" fill="#000">A</text>
</g>
<g>
<line x1="46.35" y1="143" x2="46.35" y2="225" stroke="#efefef" stroke-width="0.7"/>
<line x1="83.5" y1="143" x2="83.5" y2="225" stroke="#efefef" stroke-width="0.7"/>
<line x1="124.64" y1="143" x2="124.64" y2="225" stroke="#efefef" stroke-width="0.7"/>
<line x1="151.5" y1="143" x2="151.5" y2="225" stroke="#efefef" stroke-width="0.7"/>
<line x1="183.8" y1="143" x2="183.8" y2="225" stroke="#efefef" stroke-width="0.7"/>
<line x1="216.9" y1="143" x2="216.9" y2="225" stroke="#efefef" stroke-width="0.7"/>
<line x1="245.9" y1="143" x2="245.9" y2="225" stroke="#efefef" stroke-width="0.7"/>
<line x1="270.65" y1="143" x2="270.65" y2="225" stroke="#efefef" stroke-width="0.7"/>
<line x1="296.2" y1="143" x2="296.2" y2="225" stroke="#efefef" stroke-width="0.7"/>
<line x1="318.85" y1="143" x2="318.85" y2="225" stroke="#efefef" stroke-width="0.7"/>
<line x1="344.3" y1="143" x2="344.3" y2="225" stroke="#efefef" stroke-width="0.7"/>
<line x1="364.3" y1="143" x2="364.3" y2="225" stroke="#efefef" stroke-width="0.7"/>
<line x1="384.1" y1="143" x2="384.1" y2="225" stroke="#efefef" stroke-width="0.7"/>
<line x1="403.7" y1="143" x2="403.7" y2="225" stroke="#efefef" stroke-width="0.7"/>
<line x1="422.3" y1="143" x2="422.3" y2="225" stroke="#efefef" stroke-width="0.7"/>
<line x1="442.8" y1="143" x2="442.8" y2="225" stroke="#efefef" stroke-width="0.7"/>
<line x1="456.1" y1="143" x2="456.1" y2="225" stroke="#efefef" stroke-width="0.7"/>
<line x1="468.8" y1="143" x2="468.8" y2="225" stroke="#efefef" stroke-width="0.7"/>
<line x1="483.7" y1="143" x2="483.7" y2="225" stroke="#efefef" stroke-width="0.7"/>
<line x1="494" y1="143" x2="494" y2="225" stroke="#efefef" stroke-width="0.7"/>
<line x1="502.3" y1="143" x2="502.3" y2="225" stroke="#efefef" stroke-width="0.7"/>
<line x1="510.8" y1="143" x2="510.8" y2="225" stroke="#efefef" stroke-width="0.7"/>
<line x1="67.07" y1="143" x2="67.07" y2="225" stroke="#d2d2d2" stroke-width="0.8"/>
<line x1="108.6" y1="143" x2="108.6" y2="225" stroke="#d2d2d2" stroke-width="0.8"/>
<line x1="142.4" y1="143" x2="142.4" y2="225" stroke="#d2d2d2" stroke-width="0.8"/>
<line x1="175.06" y1="143" x2="175.06" y2="225" stroke="#d2d2d2" stroke-width="0.8"/>
<line x1="205.96" y1="143" x2="205.96" y2="225" stroke="#d2d2d2" stroke-width="0.8"/>
<line x1="235.19" y1="143" x2="235.19" y2="225" stroke="#d2d2d2" stroke-width="0.8"/>
<line x1="262.36" y1="143" x2="262.36" y2="225" stroke="#d2d2d2" stroke-width="0.8"/>
<line x1="287.36" y1="143" x2="287.36" y2="225" stroke="#d2d2d2" stroke-width="0.8"/>
<line x1="311.48" y1="143" x2="311.48" y2="225" stroke="#d2d2d2" stroke-width="0.8"/>
<line x1="334.63" y1="143" x2="334.63" y2="225" stroke="#d2d2d2" stroke-width="0.8"/>
<line x1="357.68" y1="143" x2="357.68" y2="225" stroke="#d2d2d2" stroke-width="0.8"/>
<line x1="380.54" y1="143" x2="380.54" y2="225" stroke="#d2d2d2" stroke-width="0.8"/>
<line x1="400.21" y1="143" x2="400.21" y2="225" stroke="#d2d2d2" stroke-width="0.8"/>
<line x1="418.54" y1="143" x2="418.54" y2="225" stroke="#d2d2d2" stroke-width="0.8"/>
<line x1="436.05" y1="143" x2="436.05" y2="225" stroke="#d2d2d2" stroke-width="0.8"/>
<line x1="451.48" y1="143" x2="451.48" y2="225" stroke="#d2d2d2" stroke-width="0.8"/>
<line x1="465.34" y1="143" x2="465.34" y2="225" stroke="#d2d2d2" stroke-width="0.8"/>
<line x1="478.68" y1="143" x2="478.68" y2="225" stroke="#d2d2d2" stroke-width="0.8"/>
<line x1="488.78" y1="143" x2="488.78" y2="225" stroke="#d2d2d2" stroke-width="0.8"/>
<line x1="499.54" y1="143" x2="499.54" y2="225" stroke="#d2d2d2" stroke-width="0.8"/>
<line x1="507.76" y1="143" x2="507.76" y2="225" stroke="#d2d2d2" stroke-width="0.8"/>
<rect x="25.3" y="184.1" width="0.7" height="0.86" fill="#a4a4b4"/>
<rect x="26.86" y="184.1" width="0.7" height="0.72" fill="#a4a4b4"/>
<rect x="29.26" y="184.1" width="0.7" height="1.34" fill="#a4a4b4"/>
<rect x="31.4" y="184.1" width="0.7" height="0.71" fill="#a4a4b4"/>
<rect x="33.49" y="182.61" width="0.7" height="1.49" fill="#a4a4b4"/>
<rect x="35.95" y="182.91" width="0.7" height="1.19" fill="#a4a4b4"/>
<rect x="38.05" y="183.24" width="0.7" height="0.86" fill="#a4a4b4"/>
<rect x="39.36" y="183.4" width="0.7" height="0.7" fill="#a4a4b4"/>
<rect x="41.61" y="184.1" width="0.7" height="0.61" fill="#a4a4b4"/>
<rect x="43.9" y="184.1" width="0.7" height="1.17" fill="#a4a4b4"/>
<rect x="45.85" y="182.62" width="0.7" height="1.48" fill="#a4a4b4"/>
<rect x="47.77" y="184.1" width="0.7" height="1.27" fill="#a4a4b4"/>
<rect x="49.1" y="182.75" width="0.7" height="1.35" fill="#a4a4b4"/>
<rect x="50.43" y="183.03" width="0.7" height="1.07" fill="#a4a4b4"/>
<rect x="52.05" y="184.1" width="0.7" height="0.97" fill="#a4a4b4"/>
<rect x="53.41" y="183.04" width="0.7" height="1.06" fill="#a4a4b4"/>
<rect x="54.83" y="184.1" width="0.7" height="1.39" fill="#a4a4b4"/>
<rect x="56.15" y="184.1" width="0.7" height="0.64" fill="#a4a4b4"/>
<rect x="58.4" y="184.1" width="0.7" height="0.71" fill="#a4a4b4"/>
<rect x="60.67" y="183.27" width="0.7" height="0.83" fill="#a4a4b4"/>
<rect x="62" y="183.15" width="0.7" height="0.95" fill="#a4a4b4"/>
<rect x="64.34" y="182.76" width="0.7" height="1.34" fill="#a4a4b4"/>
<rect x="65.66" y="184.1" width="0.7" height="0.8" fill="#a4a4b4"/>
<rect x="67.87" y="182.07" width="0.7" height="2.03" fill="#a4a4b4"/>
<rect x="69.85" y="181.99" width="0.7" height="2.11" fill="#a4a4b4"/>
<rect x="71.24" y="182.93" width="0.7" height="1.17" fill="#a4a4b4"/>
<rect x="73.52" y="184.1" width="0.7" height="1.64" fill="#a4a4b4"/>
<rect x="75.37" y="184.1" width="0.7" height="1.76" fill="#a4a4b4"/>
<rect x="76.95" y="184.1" width="0.7" height="1.3" fill="#a4a4b4"/>
<rect x="79.11" y="184.1" width="0.7" height="1.24" fill="#a4a4b4"/>
<rect x="80.48" y="184.1" width="0.7" height="1.63" fill="#a4a4b4"/>
<rect x="83.02" y="184.1" width="0.7" height="1.35" fill="#a4a4b4"/>
<rect x="85.24" y="184.1" width="0.7" height="1.54" fill="#a4a4b4"/>
<rect x="87.43" y="184.1" width="0.7" height="1.35" fill="#a4a4b4"/>
<rect x="89" y="184.1" width="0.7" height="2.04" fill="#a4a4b4"/>
<rect x="90.42" y="182.03" width="0.7" height="2.07" fill="#a4a4b4"/>
<rect x="92.11" y="182.97" width="0.7" height="1.13" fill="#a4a4b4"/>
<rect x="93.97" y="183.02" width="0.7" height="1.08" fill="#a4a4b4"/>
<rect x="96.22" y="184.1" width="0.7" height="1.98" fill="#a4a4b4"/>
<rect x="98.79" y="184.1" width="0.7" height="1.61" fill="#a4a4b4"/>
<rect x="100.99" y="184.1" width="0.7" height="1.41" fill="#a4a4b4"/>
<rect x="102.71" y="184.1" width="0.7" height="2.06" fill="#a4a4b4"/>
<rect x="104.4" y="181.98" width="0.7" height="2.12" fill="#a4a4b4"/>
<rect x="106.86" y="184.1" width="0.7" height="1.04" fill="#a4a4b4"/>
<rect x="109.4" y="182.67" width="0.7" height="1.43" fill="#a4a4b4"/>
<rect x="111.64" y="183.01" width="0.7" height="1.09" fill="#a4a4b4"/>
<rect x="114.18" y="184.1" width="0.7" height="1.21" fill="#a4a4b4"/>
<rect x="115.92" y="182.88" width="0.7" height="1.22" fill="#a4a4b4"/>
<rect x="118.36" y="184.1" width="0.7" height="1.2" fill="#a4a4b4"/>
<rect x="120.5" y="183.05" width="0.7" height="1.05" fill="#a4a4b4"/>
<rect x="122.46" y="184.1" width="0.7" height="1.02" fill="#a4a4b4"/>
<rect x="124.31" y="182.61" width="0.7" height="1.49" fill="#a4a4b4"/>
<rect x="125.54" y="184.1" width="0.7" height="0.78" fill="#a4a4b4"/>
<rect x="126.91" y="184.1" width="0.7" height="1.43" fill="#a4a4b4"/>
<rect x="129.06" y="184.1" width="0.7" height="0.77" fill="#a4a4b4"/>
<rect x="131.04" y="184.1" width="0.7" height="1.11" fill="#a4a4b4"/>
<rect x="132.8" y="183.18" width="0.7" height="0.92" fill="#a4a4b4"/>
<rect x="135.02" y="184.1" width="0.7" height="1.09" fill="#a4a4b4"/>
<rect x="137.46" y="184.1" width="0.7" height="0.74" fill="#a4a4b4"/>
<rect x="139.09" y="184.1" width="0.7" height="1.4" fill="#a4a4b4"/>
<rect x="140.51" y="184.1" width="0.7" height="1.03" fill="#a4a4b4"/>
<rect x="143.2" y="182.97" width="0.7" height="1.13" fill="#a4a4b4"/>
<rect x="144.92" y="184.1" width="0.7" height="1.33" fill="#a4a4b4"/>
<rect x="146.93" y="183.1" width="0.7" height="1" fill="#a4a4b4"/>
<rect x="149" y="182.57" width="0.7" height="1.53" fill="#a4a4b4"/>
<rect x="151.56" y="182.99" width="0.7" height="1.11" fill="#a4a4b4"/>
<rect x="152.83" y="184.1" width="0.7" height="1.52" fill="#a4a4b4"/>
<rect x="154.39" y="184.1" width="0.7" height="0.96" fill="#a4a4b4"/>
<rect x="156.36" y="184.1" width="0.7" height="1.32" fill="#a4a4b4"/>
<rect x="157.79" y="184.1" width="0.7" height="0.95" fill="#a4a4b4"/>
<rect x="160.17" y="183.15" width="0.7" height="0.95" fill="#a4a4b4"/>
<rect x="162.45" y="184.1" width="0.7" height="1.55" fill="#a4a4b4"/>
<rect x="163.89" y="182.79" width="0.7" height="1.31" fill="#a4a4b4"/>
<rect x="166.29" y="182.57" width="0.7" height="1.53" fill="#a4a4b4"/>
<rect x="168.73" y="184.1" width="0.7" height="0.77" fill="#a4a4b4"/>
<rect x="170.65" y="183.29" width="0.7" height="0.81" fill="#a4a4b4"/>
<rect x="172.97" y="184.1" width="0.7" height="1.71" fill="#a4a4b4"/>
<rect x="175.86" y="184.1" width="0.7" height="1.44" fill="#a4a4b4"/>
<rect x="178" y="184.1" width="0.7" height="1.53" fill="#a4a4b4"/>
<rect x="179.29" y="183.34" width="0.7" height="0.76" fill="#a4a4b4"/>
<rect x="181.51" y="184.1" width="0.7" height="1.76" fill="#a4a4b4"/>
<rect x="183.15" y="182.32" width="0.7" height="1.78" fill="#a4a4b4"/>
<rect x="185.43" y="182.67" width="0.7" height="1.43" fill="#a4a4b4"/>
<rect x="187.26" y="184.1" width="0.7" height="1" fill="#a4a4b4"/>
<rect x="189.74" y="182.94" width="0.7" height="1.16" fill="#a4a4b4"/>
<rect x="192.31" y="184.1" width="0.7" height="1.76" fill="#a4a4b4"/>
<rect x="194.65" y="184.1" width="0.7" height="1.57" fill="#a4a4b4"/>
<rect x="196.67" y="184.1" width="0.7" height="1.48" fill="#a4a4b4"/>
<rect x="197.91" y="182.74" width="0.7" height="1.36" fill="#a4a4b4"/>
<rect x="199.38" y="184.1" width="0.7" height="1.78" fill="#a4a4b4"/>
<rect x="201.57" y="182.56" width="0.7" height="1.54" fill="#a4a4b4"/>
<rect x="203" y="184.1" width="0.7" height="0.91" fill="#a4a4b4"/>
<rect x="205.1" y="182.49" width="0.7" height="1.61" fill="#a4a4b4"/>
<rect x="206.76" y="184.1" width="0.7" height="0.76" fill="#a4a4b4"/>
<rect x="208.89" y="184.1" width="0.7" height="0.64" fill="#a4a4b4"/>
<rect x="210.85" y="184.1" width="0.7" height="1.01" fill="#a4a4b4"/>
<rect x="213.08" y="182.91" width="0.7" height="1.19" fill="#a4a4b4"/>
<rect x="214.59" y="184.1" width="0.7" height="1.17" fill="#a4a4b4"/>
<rect x="216.97" y="182.9" width="0.7" height="1.2" fill="#a4a4b4"/>
<rect x="218.63" y="184.1" width="0.7" height="1.36" fill="#a4a4b4"/>
<rect x="219.98" y="184.1" width="0.7" height="0.61" fill="#a4a4b4"/>
<rect x="221.32" y="184.1" width="0.7" height="0.81" fill="#a4a4b4"/>
<rect x="222.81" y="184.1" width="0.7" height="0.6" fill="#a4a4b4"/>
<rect x="224.84" y="182.92" width="0.7" height="1.18" fill="#a4a4b4"/>
<rect x="226.92" y="184.1" width="0.7" height="0.99" fill="#a4a4b4"/>
<rect x="228.64" y="184.1" width="0.7" height="1.29" fill="#a4a4b4"/>
<rect x="230.96" y="183.48" width="0.7" height="0.62" fill="#a4a4b4"/>
<rect x="233.24" y="183.1" width="0.7" height="1" fill="#a4a4b4"/>
<rect x="235.99" y="184.1" width="0.7" height="1.12" fill="#a4a4b4"/>
<rect x="238.23" y="184.1" width="0.7" height="1.1" fill="#a4a4b4"/>
<rect x="239.71" y="184.1" width="0.7" height="1.03" fill="#a4a4b4"/>
<rect x="242.03" y="182.93" width="0.7" height="1.17" fill="#a4a4b4"/>
<rect x="244.31" y="182.73" width="0.7" height="1.37" fill="#a4a4b4"/>
<rect x="246.36" y="181.96" width="0.7" height="2.14" fill="#a4a4b4"/>
<rect x="248.03" y="182.21" width="0.7" height="1.89" fill="#a4a4b4"/>
<rect x="250.06" y="182.44" width="0.7" height="1.66" fill="#a4a4b4"/>
<rect x="251.91" y="182.38" width="0.7" height="1.72" fill="#a4a4b4"/>
<rect x="253.75" y="184.1" width="0.7" height="1.14" fill="#a4a4b4"/>
<rect x="255.65" y="181.97" width="0.7" height="2.13" fill="#a4a4b4"/>
<rect x="257.13" y="183.19" width="0.7" height="0.91" fill="#a4a4b4"/>
<rect x="259.66" y="184.1" width="0.7" height="1.92" fill="#a4a4b4"/>
<rect x="263.16" y="184.1" width="0.7" height="0.89" fill="#a4a4b4"/>
<rect x="265.17" y="183" width="0.7" height="1.1" fill="#a4a4b4"/>
<rect x="266.43" y="184.1" width="0.7" height="0.68" fill="#a4a4b4"/>
<rect x="268.93" y="184.1" width="0.7" height="1.22" fill="#a4a4b4"/>
<rect x="270.68" y="184.1" width="0.7" height="0.89" fill="#a4a4b4"/>
<rect x="272.11" y="184.1" width="0.7" height="1" fill="#a4a4b4"/>
<rect x="274.02" y="182.65" width="0.7" height="1.45" fill="#a4a4b4"/>
<rect x="276.03" y="184.1" width="0.7" height="0.87" fill="#a4a4b4"/>
<rect x="277.95" y="183.24" width="0.7" height="0.86" fill="#a4a4b4"/>
<rect x="279.81" y="182.61" width="0.7" height="1.49" fill="#a4a4b4"/>
<rect x="281.17" y="182.86" width="0.7" height="1.24" fill="#a4a4b4"/>
<rect x="283.68" y="183.29" width="0.7" height="0.81" fill="#a4a4b4"/>
<rect x="285.85" y="183.24" width="0.7" height="0.86" fill="#a4a4b4"/>
<rect x="288.16" y="182.75" width="0.7" height="1.35" fill="#a4a4b4"/>
<rect x="290.28" y="184.1" width="0.7" height="2.64" fill="#a4a4b4"/>
<rect x="292.75" y="184.1" width="0.7" height="1.93" fill="#a4a4b4"/>
<rect x="295.2" y="182.8" width="0.7" height="1.3" fill="#a4a4b4"/>
<rect x="297.12" y="182.54" width="0.7" height="1.56" fill="#a4a4b4"/>
<rect x="299.7" y="182.6" width="0.7" height="1.5" fill="#a4a4b4"/>
<rect x="301.37" y="184.1" width="0.7" height="2.26" fill="#a4a4b4"/>
<rect x="302.75" y="181.45" width="0.7" height="2.65" fill="#a4a4b4"/>
<rect x="304.84" y="181.18" width="0.7" height="2.92" fill="#a4a4b4"/>
<rect x="306.09" y="181.69" width="0.7" height="2.41" fill="#a4a4b4"/>
<rect x="307.45" y="182.13" width="0.7" height="1.97" fill="#a4a4b4"/>
<rect x="309.58" y="184.1" width="0.7" height="1.96" fill="#a4a4b4"/>
<rect x="312.28" y="182.11" width="0.7" height="1.99" fill="#a4a4b4"/>
<rect x="314.67" y="181.18" width="0.7" height="2.92" fill="#a4a4b4"/>
<rect x="316.74" y="181.61" width="0.7" height="2.49" fill="#a4a4b4"/>
<rect x="319.03" y="181.76" width="0.7" height="2.34" fill="#a4a4b4"/>
<rect x="320.76" y="184.1" width="0.7" height="1.52" fill="#a4a4b4"/>
<rect x="322.1" y="184.1" width="0.7" height="1.28" fill="#a4a4b4"/>
<rect x="323.56" y="181.82" width="0.7" height="2.28" fill="#a4a4b4"/>
<rect x="324.92" y="182.09" width="0.7" height="2.01" fill="#a4a4b4"/>
<rect x="327.2" y="184.1" width="0.7" height="1.37" fill="#a4a4b4"/>
<rect x="328.91" y="184.1" width="0.7" height="2.54" fill="#a4a4b4"/>
<rect x="330.12" y="184.1" width="0.7" height="1.58" fill="#a4a4b4"/>
<rect x="332.25" y="181.8" width="0.7" height="2.3" fill="#a4a4b4"/>
<rect x="335.43" y="184.1" width="0.7" height="1.97" fill="#a4a4b4"/>
<rect x="337.41" y="184.1" width="0.7" height="2.81" fill="#a4a4b4"/>
<rect x="339.55" y="181.4" width="0.7" height="2.7" fill="#a4a4b4"/>
<rect x="340.98" y="184.1" width="0.7" height="1.93" fill="#a4a4b4"/>
<rect x="343.18" y="181.74" width="0.7" height="2.36" fill="#a4a4b4"/>
<rect x="344.96" y="184.1" width="0.7" height="2.48" fill="#a4a4b4"/>
<rect x="347.01" y="184.1" width="0.7" height="1.28" fill="#a4a4b4"/>
<rect x="349.39" y="184.1" width="0.7" height="3" fill="#a4a4b4"/>
<rect x="351.1" y="181.61" width="0.7" height="2.49" fill="#a4a4b4"/>
<rect x="353.6" y="182.06" width="0.7" height="2.04" fill="#a4a4b4"/>
<rect x="355.13" y="184.1" width="0.7" height="1.3" fill="#a4a4b4"/>
<rect x="358.48" y="184.1" width="0.7" height="0.88" fill="#a4a4b4"/>
<rect x="360.83" y="183.3" width="0.7" height="0.8" fill="#a4a4b4"/>
<rect x="363.38" y="182.65" width="0.7" height="1.45" fill="#a4a4b4"/>
<rect x="365.75" y="184.1" width="0.7" height="0.68" fill="#a4a4b4"/>
<rect x="367.38" y="184.1" width="0.7" height="0.73" fill="#a4a4b4"/>
<rect x="369.75" y="184.1" width="0.7" height="1.47" fill="#a4a4b4"/>
<rect x="371.44" y="183.16" width="0.7" height="0.94" fill="#a4a4b4"/>
<rect x="373.52" y="184.1" width="0.7" height="0.69" fill="#a4a4b4"/>
<rect x="375.77" y="184.1" width="0.7" height="1.35" fill="#a4a4b4"/>
<rect x="377.13" y="184.1" width="0.7" height="1.19" fill="#a4a4b4"/>
<rect x="378.51" y="184.1" width="0.7" height="1.21" fill="#a4a4b4"/>
<rect x="381.34" y="182.79" width="0.7" height="1.31" fill="#a4a4b4"/>
<rect x="382.8" y="184.1" width="0.7" height="1" fill="#a4a4b4"/>
<rect x="384.35" y="184.1" width="0.7" height="0.7" fill="#a4a4b4"/>
<rect x="386.42" y="183.35" width="0.7" height="0.75" fill="#a4a4b4"/>
<rect x="388.02" y="183.29" width="0.7" height="0.81" fill="#a4a4b4"/>
<rect x="389.78" y="183.15" width="0.7" height="0.95" fill="#a4a4b4"/>
<rect x="392.24" y="184.1" width="0.7" height="1.38" fill="#a4a4b4"/>
<rect x="394.27" y="184.1" width="0.7" height="1.26" fill="#a4a4b4"/>
<rect x="396.06" y="183.22" width="0.7" height="0.88" fill="#a4a4b4"/>
<rect x="398.57" y="183.44" width="0.7" height="0.66" fill="#a4a4b4"/>
<rect x="401.01" y="182.42" width="0.7" height="1.68" fill="#a4a4b4"/>
<rect x="402.89" y="182.94" width="0.7" height="1.16" fill="#a4a4b4"/>
<rect x="405.15" y="182.32" width="0.7" height="1.78" fill="#a4a4b4"/>
<rect x="406.68" y="184.1" width="0.7" height="0.92" fill="#a4a4b4"/>
<rect x="408.99" y="182.81" width="0.7" height="1.29" fill="#a4a4b4"/>
<rect x="411.08" y="183.1" width="0.7" height="1" fill="#a4a4b4"/>
<rect x="412.4" y="184.1" width="0.7" height="1.02" fill="#a4a4b4"/>
<rect x="414.19" y="184.1" width="0.7" height="1.07" fill="#a4a4b4"/>
<rect x="415.94" y="182.74" width="0.7" height="1.36" fill="#a4a4b4"/>
<rect x="417.19" y="182.36" width="0.7" height="1.74" fill="#a4a4b4"/>
<rect x="419.34" y="184.1" width="0.7" height="1.39" fill="#a4a4b4"/>
<rect x="420.69" y="184.1" width="0.7" height="1.38" fill="#a4a4b4"/>
<rect x="422.05" y="184.1" width="0.7" height="0.79" fill="#a4a4b4"/>
<rect x="423.55" y="184.1" width="0.7" height="1.29" fill="#a4a4b4"/>
<rect x="424.86" y="184.1" width="0.7" height="0.81" fill="#a4a4b4"/>
<rect x="426.44" y="184.1" width="0.7" height="1.07" fill="#a4a4b4"/>
<rect x="428.56" y="184.1" width="0.7" height="1.33" fill="#a4a4b4"/>
<rect x="430.32" y="183.47" width="0.7" height="0.63" fill="#a4a4b4"/>
<rect x="431.57" y="182.62" width="0.7" height="1.48" fill="#a4a4b4"/>
<rect x="432.86" y="184.1" width="0.7" height="0.68" fill="#a4a4b4"/>
<rect x="434.77" y="184.1" width="0.7" height="0.9" fill="#a4a4b4"/>
<rect x="436.85" y="184.1" width="0.7" height="1.71" fill="#a4a4b4"/>
<rect x="439.14" y="184.1" width="0.7" height="1.4" fill="#a4a4b4"/>
<rect x="440.69" y="182.14" width="0.7" height="1.96" fill="#a4a4b4"/>
<rect x="443.01" y="182.22" width="0.7" height="1.88" fill="#a4a4b4"/>
<rect x="445.56" y="182.87" width="0.7" height="1.23" fill="#a4a4b4"/>
<rect x="447.42" y="182.49" width="0.7" height="1.61" fill="#a4a4b4"/>
<rect x="448.81" y="182.03" width="0.7" height="2.07" fill="#a4a4b4"/>
<rect x="452.28" y="183.43" width="0.7" height="0.67" fill="#a4a4b4"/>
<rect x="454.75" y="183.21" width="0.7" height="0.89" fill="#a4a4b4"/>
<rect x="456.35" y="184.1" width="0.7" height="0.74" fill="#a4a4b4"/>
<rect x="458.29" y="184.1" width="0.7" height="1.23" fill="#a4a4b4"/>
<rect x="460.1" y="184.1" width="0.7" height="0.75" fill="#a4a4b4"/>
<rect x="462.27" y="183.45" width="0.7" height="0.65" fill="#a4a4b4"/>
<rect x="466.14" y="182.92" width="0.7" height="1.18" fill="#a4a4b4"/>
<rect x="467.63" y="184.1" width="0.7" height="0.77" fill="#a4a4b4"/>
<rect x="469.98" y="184.1" width="0.7" height="1.19" fill="#a4a4b4"/>
<rect x="471.24" y="182.97" width="0.7" height="1.13" fill="#a4a4b4"/>
<rect x="473.15" y="184.1" width="0.7" height="0.7" fill="#a4a4b4"/>
<rect x="474.67" y="182.67" width="0.7" height="1.43" fill="#a4a4b4"/>
<rect x="477.15" y="184.1" width="0.7" height="1.09" fill="#a4a4b4"/>
<rect x="479.48" y="184.1" width="0.7" height="2.57" fill="#a4a4b4"/>
<rect x="481.2" y="182.46" width="0.7" height="1.64" fill="#a4a4b4"/>
<rect x="483.68" y="182.4" width="0.7" height="1.7" fill="#a4a4b4"/>
<rect x="486.18" y="184.1" width="0.7" height="2.39" fill="#a4a4b4"/>
<rect x="489.58" y="181.76" width="0.7" height="2.34" fill="#a4a4b4"/>
<rect x="490.94" y="184.1" width="0.7" height="2.03" fill="#a4a4b4"/>
<rect x="492.4" y="182.65" width="0.7" height="1.45" fill="#a4a4b4"/>
<rect x="493.61" y="184.1" width="0.7" height="2.34" fill="#a4a4b4"/>
<rect x="495.15" y="184.1" width="0.7" height="1.43" fill="#a4a4b4"/>
<rect x="496.75" y="184.1" width="0.7" height="2.65" fill="#a4a4b4"/>
<rect x="498.35" y="182.62" width="0.7" height="1.48" fill="#a4a4b4"/>
<rect x="500.34" y="181.82" width="0.7" height="2.28" fill="#a4a4b4"/>
<rect x="501.63" y="184.1" width="0.7" height="2.4" fill="#a4a4b4"/>
<rect x="503.56" y="184.1" width="0.7" height="2.26" fill="#a4a4b4"/>
<rect x="504.83" y="184.1" width="0.7" height="2.59" fill="#a4a4b4"/>
<rect x="506.39" y="181.95" width="0.7" height="2.15" fill="#a4a4b4"/>
<rect x="508.56" y="184.1" width="0.7" height="1.92" fill="#a4a4b4"/>
<rect x="510.87" y="181.82" width="0.7" height="2.28" fill="#a4a4b4"/>
<rect x="512.43" y="184.1" width="0.7" height="1.58" fill="#a4a4b4"/>
<rect x="513.72" y="184.1" width="0.7" height="1.39" fill="#a4a4b4"/>
<rect x="24.5" y="184.1" width="20" height="3.5" fill="#cbcbd3"/>
<rect x="24.5" y="183.1" width="20" height="1" fill="#cbcbd3"/>
<rect x="41.3" y="184.1" width="1.2" height="9" fill="#b4b4c0"/>
<rect x="30" y="184.1" width="1" height="6" fill="#b4b4c0"/>
<rect x="48.8" y="181.6" width="18.2" height="2.5" fill="#cbcbd3"/>
<rect x="48.8" y="184.1" width="18.2" height="3.8" fill="#cbcbd3"/>
<rect x="50" y="184.1" width="1" height="7" fill="#b4b4c0"/>
<rect x="52.5" y="179.1" width="0.8" height="5" fill="#b4b4c0"/>
<rect x="56" y="184.1" width="0.8" height="5.5" fill="#b4b4c0"/>
<rect x="61" y="184.1" width="0.8" height="5" fill="#b4b4c0"/>
<polygon points="67,184.1 67,180.9 80,181.3 92,182.6 92,184.1" fill="#cbcbd3"/>
<rect x="71.5" y="177.5" width="1" height="6.6" fill="#b4b4c0"/>
<rect x="79.5" y="177.5" width="1" height="6.6" fill="#b4b4c0"/>
<rect x="67" y="184.1" width="25" height="1.2" fill="#cbcbd3"/>
<rect x="108.9" y="160.6" width="0.5" height="23.5" fill="#f6a0a6"/>
<rect x="109.4" y="160.6" width="2.6" height="23.5" fill="#d2101c"/>
<rect x="112" y="160.6" width="1.3" height="23.5" fill="#f6a0a6"/>
<rect x="113.3" y="160.6" width="4.7" height="23.5" fill="#f01418"/>
<rect x="118" y="160.6" width="1.5" height="23.5" fill="#f05458"/>
<rect x="119.5" y="160.6" width="1.5" height="23.5" fill="#d2101c"/>
<rect x="122.4" y="160.6" width="0.6" height="23.5" fill="#f6a0a6"/>
<rect x="123.7" y="158.1" width="1.3" height="26" fill="#f6a0a6"/>
<rect x="125" y="158.1" width="3.5" height="26" fill="#f05458"/>
<rect x="128.5" y="158" width="4.5" height="26.1" fill="#d2101c"/>
<rect x="133" y="158" width="1.5" height="26.1" fill="#f05458"/>
<rect x="134.5" y="158" width="2.5" height="26.1" fill="#f01418"/>
<rect x="137" y="157.9" width="1.7" height="26.2" fill="#f6a0a6"/>
<rect x="138.7" y="157.9" width="2.8" height="26.2" fill="#d2101c"/>
<rect x="141.5" y="157.9" width="1.3" height="26.2" fill="#f05458"/>
<rect x="113.8" y="158.9" width="0.8" height="25.2" fill="#f01418"/>
<rect x="139.6" y="156.3" width="1" height="27.8" fill="#d2101c"/>
<rect x="150" y="184.1" width="25" height="1.5" fill="#cbcbd3"/>
<rect x="188" y="184.1" width="1" height="4.9" fill="#b4b4c0"/>
<rect x="206.2" y="170.5" width="2.8" height="13.6" fill="#d4d4da"/>
<rect x="209" y="174.4" width="2.8" height="9.7" fill="#d4d4da"/>
<rect x="211.8" y="179.5" width="3.9" height="4.6" fill="#d8d8de"/>
<rect x="207" y="184.1" width="8" height="4.2" fill="#d4d4da"/>
<rect x="210.5" y="184.1" width="1" height="6" fill="#b4b4c0"/>
<rect x="207" y="170.1" width="0.8" height="14" fill="#b4b4c0"/>
<rect x="222.4" y="184.1" width="3.4" height="5" fill="#a8a8d0"/>
<rect x="228.6" y="184.1" width="2.8" height="8.8" fill="#3030d0"/>
<rect x="229.5" y="184.1" width="1.1" height="24.6" fill="#3030d0"/>
<rect x="232" y="184.1" width="3" height="3.8" fill="#cbcbd3"/>
<rect x="236" y="184.1" width="1.3" height="8.8" fill="#3030d0"/>
<rect x="250" y="182.6" width="12" height="1.5" fill="#d8d8de"/>
<rect x="238" y="184.1" width="24" height="1.2" fill="#cbcbd3"/>
<rect x="262" y="178.6" width="9.6" height="5.5" fill="#dcdce2"/>
<rect x="266" y="184.1" width="0.8" height="4" fill="#b4b4c0"/>
<rect x="271.8" y="179.1" width="7" height="5" fill="#e83050"/>
<rect x="278.8" y="178.9" width="1.7" height="5.2" fill="#b82030"/>
<rect x="280.5" y="178.6" width="2" height="5.5" fill="#f6a0a6"/>
<rect x="282.5" y="178.4" width="5.2" height="5.7" fill="#d84050"/>
<rect x="290" y="184.1" width="66" height="1.5" fill="#cbcbd3"/>
<rect x="298" y="182.6" width="58" height="1.5" fill="#cbcbd3"/>
<rect x="301.5" y="184.1" width="0.8" height="4" fill="#b4b4c0"/>
<rect x="310.6" y="184.1" width="0.8" height="7.5" fill="#b4b4c0"/>
<rect x="317.6" y="184.1" width="0.8" height="4" fill="#b4b4c0"/>
<rect x="328.6" y="184.1" width="0.8" height="5" fill="#b4b4c0"/>
<rect x="339.6" y="184.1" width="0.8" height="4" fill="#b4b4c0"/>
<rect x="343.6" y="184.1" width="0.8" height="5" fill="#b4b4c0"/>
<rect x="349.6" y="184.1" width="0.8" height="3.5" fill="#b4b4c0"/>
<rect x="356" y="178.1" width="4" height="6" fill="#f0c0d0"/>
<rect x="360" y="178.6" width="3.5" height="5.5" fill="#d0c8d0"/>
<rect x="363.5" y="179" width="2.5" height="5.1" fill="#d04060"/>
<rect x="366" y="178.7" width="1.5" height="5.4" fill="#f6a0a6"/>
<rect x="367.5" y="178.5" width="5.5" height="5.6" fill="#f05458"/>
<rect x="369" y="178.5" width="2" height="5.6" fill="#e4485e"/>
<rect x="373.5" y="177.6" width="1.5" height="6.5" fill="#f05458"/>
<rect x="375" y="177.6" width="6" height="6.5" fill="#f01418"/>
<rect x="373.5" y="184.1" width="1.5" height="5.1" fill="#9070c0"/>
<rect x="377" y="184.1" width="1" height="2.8" fill="#b0a0d8"/>
<rect x="384" y="178.6" width="1.5" height="5.5" fill="#b4b4c0"/>
<rect x="385.5" y="179.9" width="4.1" height="4.2" fill="#f01418"/>
<rect x="387" y="184.1" width="1" height="6" fill="#8c8cbc"/>
<rect x="392.4" y="179.9" width="1.8" height="4.2" fill="#f01418"/>
<rect x="397" y="179" width="3.2" height="5.1" fill="#f01418"/>
<rect x="397.1" y="184.1" width="0.8" height="10.2" fill="#8c8cbc"/>
<rect x="399.6" y="184.1" width="0.8" height="11.1" fill="#8c8cbc"/>
<rect x="400.5" y="184.1" width="17.5" height="1.2" fill="#cbcbd3"/>
<polygon points="421.5,184.1 421.5,185.1 426,187.6 430,191.1 434,187.6 437,185.1 437,184.1" fill="#cbcbd3"/>
<rect x="422" y="182.9" width="15" height="1.2" fill="#cbcbd3"/>
<rect x="437.5" y="180.4" width="1" height="3.7" fill="#b4b4c0"/>
<polygon points="446,184.1 446,185.1 449.5,187.1 452.3,190.6 455,187.1 458,185.1 458,184.1" fill="#cbcbd3"/>
<rect x="452" y="184.1" width="0.8" height="7.7" fill="#b4b4c0"/>
<rect x="440" y="184.1" width="25" height="1.2" fill="#cbcbd3"/>
<rect x="440" y="182.9" width="25" height="1.2" fill="#d8d8de"/>
<rect x="485" y="182.3" width="15" height="1.8" fill="#d8d8de"/>
<rect x="509" y="181.6" width="7" height="2.5" fill="#d8d8de"/>
<rect x="465.3" y="167" width="2.4" height="17.1" fill="#ec1c34"/>
<rect x="467.7" y="167" width="3" height="17.1" fill="#ee4a58"/>
<rect x="471.9" y="165.1" width="3.1" height="19" fill="#f01418"/>
<rect x="475" y="165.1" width="2" height="19" fill="#f27888"/>
<rect x="477" y="164.6" width="1.4" height="19.5" fill="#d01c30"/>
<rect x="465.8" y="164.5" width="0.8" height="19.6" fill="#ec1c34"/>
<rect x="506.8" y="184.1" width="1" height="6.9" fill="#8c8cbc"/>
<rect x="479" y="184.1" width="37" height="1.5" fill="#cbcbd3"/>
<line x1="24.5" y1="184.1" x2="516.5" y2="184.1" stroke="#8e8e9e" stroke-width="0.8"/>
<rect x="24.5" y="143" width="492" height="82" fill="none" stroke="#e6e6e6" stroke-width="0.8"/>
<line x1="24.5" y1="150" x2="24.5" y2="218.2" stroke="#d6d6d6" stroke-width="0.8"/>
<line x1="109.9" y1="225" x2="451.5" y2="225" stroke="#d6d6d6" stroke-width="0.8"/>
<line x1="21.8" y1="150" x2="24.5" y2="150" stroke="#c8c8c8" stroke-width="0.6"/>
<text transform="translate(18.1,150) rotate(-90)" text-anchor="middle" font-size="5.6" fill="#000" stroke="#000" stroke-width="0.18">0.4</text>
<line x1="21.8" y1="167.05" x2="24.5" y2="167.05" stroke="#c8c8c8" stroke-width="0.6"/>
<text transform="translate(18.1,167.05) rotate(-90)" text-anchor="middle" font-size="5.6" fill="#000" stroke="#000" stroke-width="0.18">0.2</text>
<line x1="21.8" y1="184.1" x2="24.5" y2="184.1" stroke="#c8c8c8" stroke-width="0.6"/>
<text transform="translate(18.1,184.1) rotate(-90)" text-anchor="middle" font-size="5.6" fill="#000" stroke="#000" stroke-width="0.18">0.0</text>
<line x1="21.8" y1="201.15" x2="24.5" y2="201.15" stroke="#c8c8c8" stroke-width="0.6"/>
<text transform="translate(18.1,201.15) rotate(-90)" text-anchor="middle" font-size="5.6" fill="#000" stroke="#000" stroke-width="0.18">-0.2</text>
<line x1="21.8" y1="218.2" x2="24.5" y2="218.2" stroke="#c8c8c8" stroke-width="0.6"/>
<text transform="translate(18.1,218.2) rotate(-90)" text-anchor="middle" font-size="5.6" fill="#000" stroke="#000" stroke-width="0.18">-0.4</text>
<text transform="translate(4.7,184.1) rotate(-90)" text-anchor="middle" font-size="5.5" fill="#000" stroke="#000" stroke-width="0.18">frequency</text>
<line x1="109.9" y1="225" x2="109.9" y2="227" stroke="#c8c8c8" stroke-width="0.6"/>
<text x="110.4" y="236.4" text-anchor="middle" font-size="5.4" fill="#000" stroke="#000" stroke-width="0.18">5.0e+08</text>
<line x1="195.3" y1="225" x2="195.3" y2="227" stroke="#c8c8c8" stroke-width="0.6"/>
<text x="195.8" y="236.4" text-anchor="middle" font-size="5.4" fill="#000" stroke="#000" stroke-width="0.18">1.0e+09</text>
<line x1="280.7" y1="225" x2="280.7" y2="227" stroke="#c8c8c8" stroke-width="0.6"/>
<text x="281.2" y="236.4" text-anchor="middle" font-size="5.4" fill="#000" stroke="#000" stroke-width="0.18">1.5e+09</text>
<line x1="366.1" y1="225" x2="366.1" y2="227" stroke="#c8c8c8" stroke-width="0.6"/>
<text x="366.6" y="236.4" text-anchor="middle" font-size="5.4" fill="#000" stroke="#000" stroke-width="0.18">2.0e+09</text>
<line x1="451.5" y1="225" x2="451.5" y2="227" stroke="#c8c8c8" stroke-width="0.6"/>
<text x="452" y="236.4" text-anchor="middle" font-size="5.4" fill="#000" stroke="#000" stroke-width="0.18">2.5e+09</text>
<text x="43.5" y="220.8" text-anchor="middle" font-size="5.0" fill="#000" stroke="#000" stroke-width="0.18">1</text>
<text x="87.5" y="220.8" text-anchor="middle" font-size="5.0" fill="#000" stroke="#000" stroke-width="0.18">2</text>
<text x="127.1" y="220.8" text-anchor="middle" font-size="5.0" fill="#000" stroke="#000" stroke-width="0.18">3</text>
<text x="156.9" y="220.8" text-anchor="middle" font-size="5.0" fill="#000" stroke="#000" stroke-width="0.18">4</text>
<text x="196.7" y="220.8" text-anchor="middle" font-size="5.0" fill="#000" stroke="#000" stroke-width="0.18">5</text>
<text x="218.3" y="220.8" text-anchor="middle" font-size="5.0" fill="#000" stroke="#000" stroke-width="0.18">6</text>
<text x="251.8" y="220.8" text-anchor="middle" font-size="5.0" fill="#000" stroke="#000" stroke-width="0.18">7</text>
<text x="274.4" y="220.8" text-anchor="middle" font-size="5.0" fill="#000" stroke="#000" stroke-width="0.18">8</text>
<text x="304.6" y="220.8" text-anchor="middle" font-size="5.0" fill="#000" stroke="#000" stroke-width="0.18">9</text>
<text x="326.1" y="220.8" text-anchor="middle" font-size="5.0" fill="#000" stroke="#000" stroke-width="0.18">10</text>
<text x="346.5" y="220.8" text-anchor="middle" font-size="5.0" fill="#000" stroke="#000" stroke-width="0.18">11</text>
<text x="367.7" y="220.8" text-anchor="middle" font-size="5.0" fill="#000" stroke="#000" stroke-width="0.18">12</text>
<text x="389.2" y="220.8" text-anchor="middle" font-size="5.0" fill="#000" stroke="#000" stroke-width="0.18">13</text>
<text x="412.7" y="220.8" text-anchor="middle" font-size="5.0" fill="#000" stroke="#000" stroke-width="0.18">14</text>
<text x="429.6" y="220.8" text-anchor="middle" font-size="5.0" fill="#000" stroke="#000" stroke-width="0.18">15</text>
<text x="440.4" y="220.8" text-anchor="middle" font-size="5.0" fill="#000" stroke="#000" stroke-width="0.18">16</text>
<text x="457.3" y="220.8" text-anchor="middle" font-size="5.0" fill="#000" stroke="#000" stroke-width="0.18">17</text>
<text x="470.1" y="220.8" text-anchor="middle" font-size="5.0" fill="#000" stroke="#000" stroke-width="0.18">18</text>
<text x="485.5" y="220.8" text-anchor="middle" font-size="5.0" fill="#000" stroke="#000" stroke-width="0.18">19</text>
<text x="495.3" y="220.8" text-anchor="middle" font-size="5.0" fill="#000" stroke="#000" stroke-width="0.18">20</text>
<text x="506.3" y="220.8" text-anchor="middle" font-size="5.0" fill="#000" stroke="#000" stroke-width="0.18">21</text>
<text x="513.7" y="220.8" text-anchor="middle" font-size="5.0" fill="#000" stroke="#000" stroke-width="0.18">22</text>
<text x="270.5" y="132.6" text-anchor="middle" font-size="6.5" font-weight="bold" fill="#000">MALT lymphoma</text>
<text x="-0.2" y="136.8" font-size="12" font-weight="bold" fill="#000">B</text>
</g>
<g>
<line x1="46.35" y1="268.7" x2="46.35" y2="350.8" stroke="#efefef" stroke-width="0.7"/>
<line x1="83.5" y1="268.7" x2="83.5" y2="350.8" stroke="#efefef" stroke-width="0.7"/>
<line x1="124.64" y1="268.7" x2="124.64" y2="350.8" stroke="#efefef" stroke-width="0.7"/>
<line x1="151.5" y1="268.7" x2="151.5" y2="350.8" stroke="#efefef" stroke-width="0.7"/>
<line x1="183.8" y1="268.7" x2="183.8" y2="350.8" stroke="#efefef" stroke-width="0.7"/>
<line x1="216.9" y1="268.7" x2="216.9" y2="350.8" stroke="#efefef" stroke-width="0.7"/>
<line x1="245.9" y1="268.7" x2="245.9" y2="350.8" stroke="#efefef" stroke-width="0.7"/>
<line x1="270.65" y1="268.7" x2="270.65" y2="350.8" stroke="#efefef" stroke-width="0.7"/>
<line x1="296.2" y1="268.7" x2="296.2" y2="350.8" stroke="#efefef" stroke-width="0.7"/>
<line x1="318.85" y1="268.7" x2="318.85" y2="350.8" stroke="#efefef" stroke-width="0.7"/>
<line x1="344.3" y1="268.7" x2="344.3" y2="350.8" stroke="#efefef" stroke-width="0.7"/>
<line x1="364.3" y1="268.7" x2="364.3" y2="350.8" stroke="#efefef" stroke-width="0.7"/>
<line x1="384.1" y1="268.7" x2="384.1" y2="350.8" stroke="#efefef" stroke-width="0.7"/>
<line x1="403.7" y1="268.7" x2="403.7" y2="350.8" stroke="#efefef" stroke-width="0.7"/>
<line x1="422.3" y1="268.7" x2="422.3" y2="350.8" stroke="#efefef" stroke-width="0.7"/>
<line x1="442.8" y1="268.7" x2="442.8" y2="350.8" stroke="#efefef" stroke-width="0.7"/>
<line x1="456.1" y1="268.7" x2="456.1" y2="350.8" stroke="#efefef" stroke-width="0.7"/>
<line x1="468.8" y1="268.7" x2="468.8" y2="350.8" stroke="#efefef" stroke-width="0.7"/>
<line x1="483.7" y1="268.7" x2="483.7" y2="350.8" stroke="#efefef" stroke-width="0.7"/>
<line x1="494" y1="268.7" x2="494" y2="350.8" stroke="#efefef" stroke-width="0.7"/>
<line x1="502.3" y1="268.7" x2="502.3" y2="350.8" stroke="#efefef" stroke-width="0.7"/>
<line x1="510.8" y1="268.7" x2="510.8" y2="350.8" stroke="#efefef" stroke-width="0.7"/>
<line x1="67.07" y1="268.7" x2="67.07" y2="350.8" stroke="#d2d2d2" stroke-width="0.8"/>
<line x1="108.6" y1="268.7" x2="108.6" y2="350.8" stroke="#d2d2d2" stroke-width="0.8"/>
<line x1="142.4" y1="268.7" x2="142.4" y2="350.8" stroke="#d2d2d2" stroke-width="0.8"/>
<line x1="175.06" y1="268.7" x2="175.06" y2="350.8" stroke="#d2d2d2" stroke-width="0.8"/>
<line x1="205.96" y1="268.7" x2="205.96" y2="350.8" stroke="#d2d2d2" stroke-width="0.8"/>
<line x1="235.19" y1="268.7" x2="235.19" y2="350.8" stroke="#d2d2d2" stroke-width="0.8"/>
<line x1="262.36" y1="268.7" x2="262.36" y2="350.8" stroke="#d2d2d2" stroke-width="0.8"/>
<line x1="287.36" y1="268.7" x2="287.36" y2="350.8" stroke="#d2d2d2" stroke-width="0.8"/>
<line x1="311.48" y1="268.7" x2="311.48" y2="350.8" stroke="#d2d2d2" stroke-width="0.8"/>
<line x1="334.63" y1="268.7" x2="334.63" y2="350.8" stroke="#d2d2d2" stroke-width="0.8"/>
<line x1="357.68" y1="268.7" x2="357.68" y2="350.8" stroke="#d2d2d2" stroke-width="0.8"/>
<line x1="380.54" y1="268.7" x2="380.54" y2="350.8" stroke="#d2d2d2" stroke-width="0.8"/>
<line x1="400.21" y1="268.7" x2="400.21" y2="350.8" stroke="#d2d2d2" stroke-width="0.8"/>
<line x1="418.54" y1="268.7" x2="418.54" y2="350.8" stroke="#d2d2d2" stroke-width="0.8"/>
<line x1="436.05" y1="268.7" x2="436.05" y2="350.8" stroke="#d2d2d2" stroke-width="0.8"/>
<line x1="451.48" y1="268.7" x2="451.48" y2="350.8" stroke="#d2d2d2" stroke-width="0.8"/>
<line x1="465.34" y1="268.7" x2="465.34" y2="350.8" stroke="#d2d2d2" stroke-width="0.8"/>
<line x1="478.68" y1="268.7" x2="478.68" y2="350.8" stroke="#d2d2d2" stroke-width="0.8"/>
<line x1="488.78" y1="268.7" x2="488.78" y2="350.8" stroke="#d2d2d2" stroke-width="0.8"/>
<line x1="499.54" y1="268.7" x2="499.54" y2="350.8" stroke="#d2d2d2" stroke-width="0.8"/>
<line x1="507.76" y1="268.7" x2="507.76" y2="350.8" stroke="#d2d2d2" stroke-width="0.8"/>
<rect x="25.3" y="309.7" width="0.7" height="0.99" fill="#a4a4b4"/>
<rect x="26.95" y="308.44" width="0.7" height="1.26" fill="#a4a4b4"/>
<rect x="28.7" y="309.7" width="0.7" height="0.7" fill="#a4a4b4"/>
<rect x="31.25" y="308.96" width="0.7" height="0.74" fill="#a4a4b4"/>
<rect x="33.28" y="309.7" width="0.7" height="1.08" fill="#a4a4b4"/>
<rect x="34.9" y="308.67" width="0.7" height="1.03" fill="#a4a4b4"/>
<rect x="36.5" y="308.79" width="0.7" height="0.91" fill="#a4a4b4"/>
<rect x="38.79" y="309.7" width="0.7" height="1.46" fill="#a4a4b4"/>
<rect x="40.27" y="309.7" width="0.7" height="1.38" fill="#a4a4b4"/>
<rect x="42.84" y="309.03" width="0.7" height="0.67" fill="#a4a4b4"/>
<rect x="44.4" y="309.7" width="0.7" height="0.75" fill="#a4a4b4"/>
<rect x="45.91" y="308.94" width="0.7" height="0.76" fill="#a4a4b4"/>
<rect x="47.38" y="308.8" width="0.7" height="0.9" fill="#a4a4b4"/>
<rect x="49.47" y="308.89" width="0.7" height="0.81" fill="#a4a4b4"/>
<rect x="51.9" y="308.23" width="0.7" height="1.47" fill="#a4a4b4"/>
<rect x="53.2" y="309.7" width="0.7" height="1.08" fill="#a4a4b4"/>
<rect x="55.65" y="309.7" width="0.7" height="0.83" fill="#a4a4b4"/>
<rect x="57.54" y="309.7" width="0.7" height="1" fill="#a4a4b4"/>
<rect x="59.76" y="309.03" width="0.7" height="0.67" fill="#a4a4b4"/>
<rect x="61.22" y="309.7" width="0.7" height="0.61" fill="#a4a4b4"/>
<rect x="63.37" y="308.74" width="0.7" height="0.96" fill="#a4a4b4"/>
<rect x="65.82" y="309.7" width="0.7" height="1.24" fill="#a4a4b4"/>
<rect x="67.87" y="309.7" width="0.7" height="0.9" fill="#a4a4b4"/>
<rect x="69.9" y="308.69" width="0.7" height="1.01" fill="#a4a4b4"/>
<rect x="72" y="309.7" width="0.7" height="0.7" fill="#a4a4b4"/>
<rect x="74.07" y="309.7" width="0.7" height="1.28" fill="#a4a4b4"/>
<rect x="75.62" y="309.7" width="0.7" height="0.97" fill="#a4a4b4"/>
<rect x="77.74" y="309.04" width="0.7" height="0.66" fill="#a4a4b4"/>
<rect x="79.86" y="309.08" width="0.7" height="0.62" fill="#a4a4b4"/>
<rect x="82.12" y="309.7" width="0.7" height="0.88" fill="#a4a4b4"/>
<rect x="83.85" y="308.43" width="0.7" height="1.27" fill="#a4a4b4"/>
<rect x="85.39" y="309.7" width="0.7" height="0.61" fill="#a4a4b4"/>
<rect x="87.83" y="309.7" width="0.7" height="0.82" fill="#a4a4b4"/>
<rect x="89.36" y="308.34" width="0.7" height="1.36" fill="#a4a4b4"/>
<rect x="91.39" y="309.7" width="0.7" height="1.48" fill="#a4a4b4"/>
<rect x="93.06" y="308.75" width="0.7" height="0.95" fill="#a4a4b4"/>
<rect x="94.57" y="309.7" width="0.7" height="1.16" fill="#a4a4b4"/>
<rect x="96.37" y="308.61" width="0.7" height="1.09" fill="#a4a4b4"/>
<rect x="97.69" y="309.7" width="0.7" height="1.31" fill="#a4a4b4"/>
<rect x="99" y="309.01" width="0.7" height="0.69" fill="#a4a4b4"/>
<rect x="100.68" y="308.67" width="0.7" height="1.03" fill="#a4a4b4"/>
<rect x="102.13" y="309.7" width="0.7" height="0.7" fill="#a4a4b4"/>
<rect x="104.45" y="309.01" width="0.7" height="0.69" fill="#a4a4b4"/>
<rect x="105.72" y="309.7" width="0.7" height="0.7" fill="#a4a4b4"/>
<rect x="109.4" y="308.53" width="0.7" height="1.17" fill="#a4a4b4"/>
<rect x="110.8" y="309.7" width="0.7" height="0.74" fill="#a4a4b4"/>
<rect x="113.08" y="308.84" width="0.7" height="0.86" fill="#a4a4b4"/>
<rect x="114.58" y="308.76" width="0.7" height="0.94" fill="#a4a4b4"/>
<rect x="116.5" y="309.7" width="0.7" height="1.23" fill="#a4a4b4"/>
<rect x="118.48" y="309.7" width="0.7" height="1.18" fill="#a4a4b4"/>
<rect x="121.08" y="308.34" width="0.7" height="1.36" fill="#a4a4b4"/>
<rect x="123.36" y="308.88" width="0.7" height="0.82" fill="#a4a4b4"/>
<rect x="125.86" y="308.25" width="0.7" height="1.45" fill="#a4a4b4"/>
<rect x="127.07" y="309.7" width="0.7" height="1.45" fill="#a4a4b4"/>
<rect x="129.52" y="308.52" width="0.7" height="1.18" fill="#a4a4b4"/>
<rect x="131.99" y="309.7" width="0.7" height="1.21" fill="#a4a4b4"/>
<rect x="134.28" y="309.7" width="0.7" height="1.16" fill="#a4a4b4"/>
<rect x="136.78" y="308.88" width="0.7" height="0.82" fill="#a4a4b4"/>
<rect x="138.8" y="309.7" width="0.7" height="1.33" fill="#a4a4b4"/>
<rect x="140.11" y="309.7" width="0.7" height="1.3" fill="#a4a4b4"/>
<rect x="143.2" y="309.09" width="0.7" height="0.61" fill="#a4a4b4"/>
<rect x="145.5" y="309.7" width="0.7" height="0.86" fill="#a4a4b4"/>
<rect x="147.51" y="309.7" width="0.7" height="0.62" fill="#a4a4b4"/>
<rect x="149.91" y="309.7" width="0.7" height="0.73" fill="#a4a4b4"/>
<rect x="151.86" y="308.51" width="0.7" height="1.19" fill="#a4a4b4"/>
<rect x="153.25" y="309.7" width="0.7" height="1.3" fill="#a4a4b4"/>
<rect x="155.7" y="308.53" width="0.7" height="1.17" fill="#a4a4b4"/>
<rect x="157.23" y="309.7" width="0.7" height="1.03" fill="#a4a4b4"/>
<rect x="158.46" y="309.7" width="0.7" height="1.44" fill="#a4a4b4"/>
<rect x="160.14" y="309.7" width="0.7" height="1.16" fill="#a4a4b4"/>
<rect x="161.61" y="308.91" width="0.7" height="0.79" fill="#a4a4b4"/>
<rect x="163.02" y="309.7" width="0.7" height="1.17" fill="#a4a4b4"/>
<rect x="164.55" y="309.7" width="0.7" height="0.68" fill="#a4a4b4"/>
<rect x="166.23" y="308.47" width="0.7" height="1.23" fill="#a4a4b4"/>
<rect x="168.46" y="309.7" width="0.7" height="0.84" fill="#a4a4b4"/>
<rect x="169.67" y="309.07" width="0.7" height="0.63" fill="#a4a4b4"/>
<rect x="171.11" y="308.36" width="0.7" height="1.34" fill="#a4a4b4"/>
<rect x="172.55" y="308.76" width="0.7" height="0.94" fill="#a4a4b4"/>
<rect x="174.05" y="309.09" width="0.7" height="0.61" fill="#a4a4b4"/>
<rect x="175.86" y="308.4" width="0.7" height="1.3" fill="#a4a4b4"/>
<rect x="178.43" y="308.57" width="0.7" height="1.13" fill="#a4a4b4"/>
<rect x="180.21" y="308.05" width="0.7" height="1.65" fill="#a4a4b4"/>
<rect x="182.23" y="309.7" width="0.7" height="1.03" fill="#a4a4b4"/>
<rect x="184.7" y="308.75" width="0.7" height="0.95" fill="#a4a4b4"/>
<rect x="186.44" y="309.7" width="0.7" height="0.75" fill="#a4a4b4"/>
<rect x="188.66" y="308.15" width="0.7" height="1.55" fill="#a4a4b4"/>
<rect x="191.04" y="309.7" width="0.7" height="1.54" fill="#a4a4b4"/>
<rect x="192.45" y="309.7" width="0.7" height="0.87" fill="#a4a4b4"/>
<rect x="194.26" y="309.7" width="0.7" height="1.73" fill="#a4a4b4"/>
<rect x="195.82" y="309.7" width="0.7" height="1.59" fill="#a4a4b4"/>
<rect x="198.25" y="308.82" width="0.7" height="0.88" fill="#a4a4b4"/>
<rect x="200.08" y="308.77" width="0.7" height="0.93" fill="#a4a4b4"/>
<rect x="201.44" y="309.7" width="0.7" height="1.64" fill="#a4a4b4"/>
<rect x="203.17" y="307.98" width="0.7" height="1.72" fill="#a4a4b4"/>
<rect x="206.76" y="309.7" width="0.7" height="1.72" fill="#a4a4b4"/>
<rect x="209.19" y="308.79" width="0.7" height="0.91" fill="#a4a4b4"/>
<rect x="211.55" y="309.7" width="0.7" height="1.3" fill="#a4a4b4"/>
<rect x="213.48" y="309.7" width="0.7" height="1.21" fill="#a4a4b4"/>
<rect x="215.27" y="308.73" width="0.7" height="0.97" fill="#a4a4b4"/>
<rect x="216.57" y="309.7" width="0.7" height="1.53" fill="#a4a4b4"/>
<rect x="217.82" y="309.7" width="0.7" height="0.93" fill="#a4a4b4"/>
<rect x="219.72" y="309.7" width="0.7" height="1.43" fill="#a4a4b4"/>
<rect x="222.27" y="308.95" width="0.7" height="0.75" fill="#a4a4b4"/>
<rect x="224.66" y="308.83" width="0.7" height="0.87" fill="#a4a4b4"/>
<rect x="227.14" y="309.7" width="0.7" height="0.85" fill="#a4a4b4"/>
<rect x="229.06" y="309.7" width="0.7" height="0.75" fill="#a4a4b4"/>
<rect x="230.47" y="308.89" width="0.7" height="0.81" fill="#a4a4b4"/>
<rect x="231.75" y="308.77" width="0.7" height="0.93" fill="#a4a4b4"/>
<rect x="234.32" y="309.7" width="0.7" height="1.66" fill="#a4a4b4"/>
<rect x="235.99" y="308.9" width="0.7" height="0.8" fill="#a4a4b4"/>
<rect x="237.72" y="308.94" width="0.7" height="0.76" fill="#a4a4b4"/>
<rect x="239.99" y="309.7" width="0.7" height="0.61" fill="#a4a4b4"/>
<rect x="242.57" y="308.22" width="0.7" height="1.48" fill="#a4a4b4"/>
<rect x="244.34" y="309.7" width="0.7" height="1.4" fill="#a4a4b4"/>
<rect x="246.5" y="308.74" width="0.7" height="0.96" fill="#a4a4b4"/>
<rect x="248.88" y="308.42" width="0.7" height="1.28" fill="#a4a4b4"/>
<rect x="251.24" y="309.7" width="0.7" height="0.74" fill="#a4a4b4"/>
<rect x="252.85" y="308.37" width="0.7" height="1.33" fill="#a4a4b4"/>
<rect x="254.93" y="308.86" width="0.7" height="0.84" fill="#a4a4b4"/>
<rect x="256.81" y="309.7" width="0.7" height="1.22" fill="#a4a4b4"/>
<rect x="258.32" y="308.64" width="0.7" height="1.06" fill="#a4a4b4"/>
<rect x="260.88" y="308.57" width="0.7" height="1.13" fill="#a4a4b4"/>
<rect x="263.16" y="308.51" width="0.7" height="1.19" fill="#a4a4b4"/>
<rect x="265.49" y="309.7" width="0.7" height="0.96" fill="#a4a4b4"/>
<rect x="266.91" y="309.7" width="0.7" height="1.47" fill="#a4a4b4"/>
<rect x="269.2" y="309.7" width="0.7" height="1.2" fill="#a4a4b4"/>
<rect x="270.96" y="308.93" width="0.7" height="0.77" fill="#a4a4b4"/>
<rect x="273.17" y="308.42" width="0.7" height="1.28" fill="#a4a4b4"/>
<rect x="275.61" y="309.7" width="0.7" height="1.35" fill="#a4a4b4"/>
<rect x="276.87" y="309.06" width="0.7" height="0.64" fill="#a4a4b4"/>
<rect x="279.32" y="308.62" width="0.7" height="1.08" fill="#a4a4b4"/>
<rect x="281.84" y="309.7" width="0.7" height="0.75" fill="#a4a4b4"/>
<rect x="283.54" y="309.7" width="0.7" height="0.97" fill="#a4a4b4"/>
<rect x="285.28" y="309.02" width="0.7" height="0.68" fill="#a4a4b4"/>
<rect x="288.16" y="307.84" width="0.7" height="1.86" fill="#a4a4b4"/>
<rect x="290.64" y="309.7" width="0.7" height="0.84" fill="#a4a4b4"/>
<rect x="291.86" y="308.68" width="0.7" height="1.02" fill="#a4a4b4"/>
<rect x="293.71" y="309.7" width="0.7" height="1.03" fill="#a4a4b4"/>
<rect x="296.12" y="307.82" width="0.7" height="1.88" fill="#a4a4b4"/>
<rect x="298.33" y="308.23" width="0.7" height="1.47" fill="#a4a4b4"/>
<rect x="299.97" y="309.7" width="0.7" height="0.95" fill="#a4a4b4"/>
<rect x="301.85" y="308.32" width="0.7" height="1.38" fill="#a4a4b4"/>
<rect x="303.66" y="309.7" width="0.7" height="1.42" fill="#a4a4b4"/>
<rect x="305.35" y="309.7" width="0.7" height="1.6" fill="#a4a4b4"/>
<rect x="306.83" y="308.6" width="0.7" height="1.1" fill="#a4a4b4"/>
<rect x="309.01" y="309.7" width="0.7" height="1.72" fill="#a4a4b4"/>
<rect x="310.48" y="307.86" width="0.7" height="1.84" fill="#a4a4b4"/>
<rect x="312.28" y="309.7" width="0.7" height="1.71" fill="#a4a4b4"/>
<rect x="314.66" y="309.7" width="0.7" height="0.87" fill="#a4a4b4"/>
<rect x="316.56" y="308.76" width="0.7" height="0.94" fill="#a4a4b4"/>
<rect x="317.88" y="308.79" width="0.7" height="0.91" fill="#a4a4b4"/>
<rect x="319.3" y="309.7" width="0.7" height="1.51" fill="#a4a4b4"/>
<rect x="320.68" y="309.7" width="0.7" height="1.08" fill="#a4a4b4"/>
<rect x="321.89" y="308.62" width="0.7" height="1.08" fill="#a4a4b4"/>
<rect x="323.58" y="309.7" width="0.7" height="0.92" fill="#a4a4b4"/>
<rect x="326.12" y="309.7" width="0.7" height="1.38" fill="#a4a4b4"/>
<rect x="327.34" y="308.79" width="0.7" height="0.91" fill="#a4a4b4"/>
<rect x="329.22" y="309.7" width="0.7" height="1.29" fill="#a4a4b4"/>
<rect x="330.5" y="308.35" width="0.7" height="1.35" fill="#a4a4b4"/>
<rect x="332.24" y="308.2" width="0.7" height="1.5" fill="#a4a4b4"/>
<rect x="335.43" y="309.7" width="0.7" height="1.65" fill="#a4a4b4"/>
<rect x="336.94" y="309.7" width="0.7" height="1.48" fill="#a4a4b4"/>
<rect x="339.31" y="308" width="0.7" height="1.7" fill="#a4a4b4"/>
<rect x="340.87" y="308.54" width="0.7" height="1.16" fill="#a4a4b4"/>
<rect x="342.11" y="308.61" width="0.7" height="1.09" fill="#a4a4b4"/>
<rect x="343.34" y="308.06" width="0.7" height="1.64" fill="#a4a4b4"/>
<rect x="345.5" y="308.27" width="0.7" height="1.43" fill="#a4a4b4"/>
<rect x="347.88" y="307.46" width="0.7" height="2.24" fill="#a4a4b4"/>
<rect x="349.71" y="309.7" width="0.7" height="2.08" fill="#a4a4b4"/>
<rect x="350.91" y="308.13" width="0.7" height="1.57" fill="#a4a4b4"/>
<rect x="352.53" y="309.7" width="0.7" height="1.89" fill="#a4a4b4"/>
<rect x="354.45" y="307.68" width="0.7" height="2.02" fill="#a4a4b4"/>
<rect x="356.29" y="308.15" width="0.7" height="1.55" fill="#a4a4b4"/>
<rect x="358.48" y="309.7" width="0.7" height="1.08" fill="#a4a4b4"/>
<rect x="360.35" y="308.38" width="0.7" height="1.32" fill="#a4a4b4"/>
<rect x="362.89" y="308.29" width="0.7" height="1.41" fill="#a4a4b4"/>
<rect x="365.2" y="309.7" width="0.7" height="0.66" fill="#a4a4b4"/>
<rect x="367.17" y="308.86" width="0.7" height="0.84" fill="#a4a4b4"/>
<rect x="368.65" y="309.7" width="0.7" height="0.64" fill="#a4a4b4"/>
<rect x="370.9" y="308.31" width="0.7" height="1.39" fill="#a4a4b4"/>
<rect x="373.12" y="308.89" width="0.7" height="0.81" fill="#a4a4b4"/>
<rect x="375.14" y="308.8" width="0.7" height="0.9" fill="#a4a4b4"/>
<rect x="376.82" y="308.71" width="0.7" height="0.99" fill="#a4a4b4"/>
<rect x="378.45" y="309.7" width="0.7" height="0.83" fill="#a4a4b4"/>
<rect x="381.34" y="309.7" width="0.7" height="2.36" fill="#a4a4b4"/>
<rect x="383.79" y="307.65" width="0.7" height="2.05" fill="#a4a4b4"/>
<rect x="385.86" y="309.7" width="0.7" height="2.22" fill="#a4a4b4"/>
<rect x="387.98" y="308.08" width="0.7" height="1.62" fill="#a4a4b4"/>
<rect x="390.27" y="307.96" width="0.7" height="1.74" fill="#a4a4b4"/>
<rect x="392.83" y="309.7" width="0.7" height="2.3" fill="#a4a4b4"/>
<rect x="394.38" y="307.46" width="0.7" height="2.24" fill="#a4a4b4"/>
<rect x="395.97" y="309.7" width="0.7" height="2.19" fill="#a4a4b4"/>
<rect x="397.28" y="309.7" width="0.7" height="1.23" fill="#a4a4b4"/>
<rect x="401.01" y="308.56" width="0.7" height="1.14" fill="#a4a4b4"/>
<rect x="403.15" y="309.7" width="0.7" height="1.25" fill="#a4a4b4"/>
<rect x="405.12" y="309.7" width="0.7" height="0.61" fill="#a4a4b4"/>
<rect x="407.32" y="309.06" width="0.7" height="0.64" fill="#a4a4b4"/>
<rect x="409.24" y="308.48" width="0.7" height="1.22" fill="#a4a4b4"/>
<rect x="411.24" y="308.59" width="0.7" height="1.11" fill="#a4a4b4"/>
<rect x="412.98" y="309.7" width="0.7" height="0.68" fill="#a4a4b4"/>
<rect x="414.94" y="308.48" width="0.7" height="1.22" fill="#a4a4b4"/>
<rect x="416.94" y="309.7" width="0.7" height="0.95" fill="#a4a4b4"/>
<rect x="419.34" y="308.22" width="0.7" height="1.48" fill="#a4a4b4"/>
<rect x="421.21" y="309.7" width="0.7" height="1" fill="#a4a4b4"/>
<rect x="422.44" y="309" width="0.7" height="0.7" fill="#a4a4b4"/>
<rect x="424.49" y="308.94" width="0.7" height="0.76" fill="#a4a4b4"/>
<rect x="426.59" y="308.36" width="0.7" height="1.34" fill="#a4a4b4"/>
<rect x="428.25" y="309.7" width="0.7" height="0.65" fill="#a4a4b4"/>
<rect x="430.11" y="309.7" width="0.7" height="1.07" fill="#a4a4b4"/>
<rect x="431.43" y="309.7" width="0.7" height="0.65" fill="#a4a4b4"/>
<rect x="433.09" y="308.59" width="0.7" height="1.11" fill="#a4a4b4"/>
<rect x="434.59" y="309.7" width="0.7" height="1.23" fill="#a4a4b4"/>
<rect x="436.85" y="309.7" width="0.7" height="1.22" fill="#a4a4b4"/>
<rect x="439.03" y="307.89" width="0.7" height="1.81" fill="#a4a4b4"/>
<rect x="440.5" y="309.7" width="0.7" height="1.21" fill="#a4a4b4"/>
<rect x="441.76" y="308.24" width="0.7" height="1.46" fill="#a4a4b4"/>
<rect x="443.75" y="309.7" width="0.7" height="1.92" fill="#a4a4b4"/>
<rect x="445.96" y="309.7" width="0.7" height="1.59" fill="#a4a4b4"/>
<rect x="448.1" y="308.13" width="0.7" height="1.57" fill="#a4a4b4"/>
<rect x="450.6" y="308.28" width="0.7" height="1.42" fill="#a4a4b4"/>
<rect x="452.28" y="309.7" width="0.7" height="1.05" fill="#a4a4b4"/>
<rect x="454.61" y="309.7" width="0.7" height="0.99" fill="#a4a4b4"/>
<rect x="457.1" y="309.7" width="0.7" height="0.74" fill="#a4a4b4"/>
<rect x="459.4" y="308.93" width="0.7" height="0.77" fill="#a4a4b4"/>
<rect x="461.08" y="308.69" width="0.7" height="1.01" fill="#a4a4b4"/>
<rect x="462.96" y="309.07" width="0.7" height="0.63" fill="#a4a4b4"/>
<rect x="466.14" y="308.39" width="0.7" height="1.31" fill="#a4a4b4"/>
<rect x="467.78" y="309.7" width="0.7" height="0.7" fill="#a4a4b4"/>
<rect x="469.41" y="309.7" width="0.7" height="0.75" fill="#a4a4b4"/>
<rect x="470.78" y="308.43" width="0.7" height="1.27" fill="#a4a4b4"/>
<rect x="473.02" y="308.69" width="0.7" height="1.01" fill="#a4a4b4"/>
<rect x="474.53" y="309.7" width="0.7" height="0.92" fill="#a4a4b4"/>
<rect x="476.49" y="309.7" width="0.7" height="0.71" fill="#a4a4b4"/>
<rect x="479.48" y="309.7" width="0.7" height="1.03" fill="#a4a4b4"/>
<rect x="481.58" y="308.66" width="0.7" height="1.04" fill="#a4a4b4"/>
<rect x="483.01" y="309.7" width="0.7" height="1.04" fill="#a4a4b4"/>
<rect x="485.03" y="309.7" width="0.7" height="1.45" fill="#a4a4b4"/>
<rect x="487.6" y="308.46" width="0.7" height="1.24" fill="#a4a4b4"/>
<rect x="489.58" y="309.7" width="0.7" height="2.2" fill="#a4a4b4"/>
<rect x="492.13" y="307.61" width="0.7" height="2.09" fill="#a4a4b4"/>
<rect x="493.75" y="307.91" width="0.7" height="1.79" fill="#a4a4b4"/>
<rect x="496.28" y="307.47" width="0.7" height="2.23" fill="#a4a4b4"/>
<rect x="497.77" y="309.7" width="0.7" height="1.34" fill="#a4a4b4"/>
<rect x="500.34" y="309.7" width="0.7" height="1.93" fill="#a4a4b4"/>
<rect x="502.62" y="307.82" width="0.7" height="1.88" fill="#a4a4b4"/>
<rect x="504.63" y="309.7" width="0.7" height="1.91" fill="#a4a4b4"/>
<rect x="505.99" y="307.47" width="0.7" height="2.23" fill="#a4a4b4"/>
<rect x="508.56" y="307.49" width="0.7" height="2.21" fill="#a4a4b4"/>
<rect x="510.48" y="309.7" width="0.7" height="1.3" fill="#a4a4b4"/>
<rect x="511.95" y="309.7" width="0.7" height="1.87" fill="#a4a4b4"/>
<rect x="513.95" y="308.64" width="0.7" height="1.06" fill="#a4a4b4"/>
<rect x="24.5" y="309.7" width="6.5" height="6.9" fill="#cbcbd3"/>
<rect x="26.5" y="309.7" width="1.2" height="11" fill="#b4b4c0"/>
<rect x="31" y="309.7" width="14" height="1.5" fill="#cbcbd3"/>
<rect x="40.5" y="309.7" width="1.3" height="6.9" fill="#b4b4c0"/>
<rect x="48.9" y="302.3" width="2.8" height="7.4" fill="#f01418"/>
<rect x="51.7" y="304.2" width="1.6" height="5.5" fill="#f6a0a6"/>
<rect x="53.3" y="303.2" width="2.7" height="6.5" fill="#d2101c"/>
<rect x="56" y="303.7" width="1.6" height="6" fill="#f6a0a6"/>
<rect x="57.6" y="303.4" width="3" height="6.3" fill="#f01418"/>
<rect x="60.6" y="304.7" width="1.4" height="5" fill="#f6a0a6"/>
<rect x="62" y="304.9" width="4.9" height="4.8" fill="#d84060"/>
<rect x="176" y="307.2" width="6" height="2.5" fill="#cbcbd3"/>
<rect x="108.9" y="303.9" width="0.5" height="5.8" fill="#f6a0a6"/>
<rect x="109.4" y="303.9" width="2.6" height="5.8" fill="#d2101c"/>
<rect x="112" y="303.9" width="1.3" height="5.8" fill="#f6a0a6"/>
<rect x="113.3" y="304.3" width="4.7" height="5.4" fill="#f01418"/>
<rect x="118" y="304.3" width="1.5" height="5.4" fill="#f05458"/>
<rect x="119.5" y="303.1" width="1.5" height="6.6" fill="#d2101c"/>
<rect x="122.4" y="304.2" width="0.6" height="5.5" fill="#f6a0a6"/>
<rect x="123.7" y="299.7" width="1.3" height="10" fill="#f6a0a6"/>
<rect x="125" y="297.9" width="3.5" height="11.8" fill="#f05458"/>
<rect x="128.5" y="296.1" width="4.5" height="13.6" fill="#d2101c"/>
<rect x="133" y="294.9" width="1.5" height="14.8" fill="#f05458"/>
<rect x="134.5" y="294.5" width="2.5" height="15.2" fill="#f01418"/>
<rect x="137" y="293.1" width="1.7" height="16.6" fill="#f6a0a6"/>
<rect x="138.7" y="292.7" width="2.8" height="17" fill="#d2101c"/>
<rect x="141.5" y="293" width="1.3" height="16.7" fill="#f05458"/>
<rect x="229.2" y="309.7" width="1.4" height="10.3" fill="#5858b0"/>
<polygon points="254.5,309.7 254.5,320.7 256,321.7 257.3,330.8 258,329.7 259.9,317.7 259.9,309.7" fill="#3030d0"/>
<rect x="262" y="307.2" width="8" height="2.5" fill="#cbcbd3"/>
<polygon points="262.3,309.7 262.3,318.7 264,320 266,317.7 268,313.7 270,311.2 270,309.7" fill="#cbcbd3"/>
<rect x="264.2" y="309.7" width="0.8" height="10.3" fill="#b4b4c0"/>
<rect x="271.5" y="306.7" width="2.5" height="3" fill="#e4485e"/>
<rect x="274" y="305.6" width="3.5" height="4.1" fill="#e4485e"/>
<rect x="277.5" y="304.7" width="2.5" height="5" fill="#e4485e"/>
<rect x="280" y="303.5" width="1.5" height="6.2" fill="#d2101c"/>
<rect x="281.5" y="303.5" width="1.5" height="6.2" fill="#f6a0a6"/>
<rect x="283" y="302.7" width="5" height="7" fill="#e4485e"/>
<polygon points="352.7,309.7 352.7,310.7 353.8,316.1 355,310.7 355,309.7" fill="#cbcbd3"/>
<polygon points="358.5,309.7 358.5,310.7 359.6,318.5 360.8,310.7 360.8,309.7" fill="#c8c0d8"/>
<rect x="300" y="309.7" width="52" height="1.2" fill="#cbcbd3"/>
<rect x="365.8" y="303.1" width="2.3" height="6.6" fill="#d03050"/>
<rect x="368.1" y="303.5" width="1.9" height="6.2" fill="#f6a0a6"/>
<rect x="370" y="303.1" width="2" height="6.6" fill="#e4485e"/>
<rect x="372" y="303.5" width="1.3" height="6.2" fill="#f6a0a6"/>
<rect x="373.3" y="303.8" width="7.5" height="5.9" fill="#f01418"/>
<rect x="384.4" y="309.7" width="2.5" height="6.2" fill="#cbcbd3"/>
<rect x="388" y="309.7" width="1" height="7.5" fill="#b4b4c0"/>
<rect x="399" y="309.7" width="0.8" height="8.7" fill="#b4b4c0"/>
<rect x="383" y="308.5" width="17" height="1.2" fill="#cbcbd3"/>
<rect x="400" y="309.7" width="9" height="2.5" fill="#cbcbd3"/>
<rect x="403.1" y="309.7" width="0.8" height="8.7" fill="#b4b4c0"/>
<polygon points="408.7,309.7 408.7,312.7 411,314.7 412.5,315.7 413,316.6 416,316.6 417.5,312.7 417.5,309.7" fill="#5050c0"/>
<rect x="409" y="309.7" width="3" height="5" fill="#9090d0"/>
<polygon points="421.3,309.7 421.3,310.7 425,313.2 429,316.6 433,313.7 436.3,311.2 436.3,309.7" fill="#cbcbd3"/>
<rect x="422" y="307.8" width="15" height="1.9" fill="#cbcbd3"/>
<rect x="435.6" y="309.7" width="0.8" height="9" fill="#b4b4c0"/>
<polygon points="450.9,309.7 450.9,322.7 452,322.7 455,318.7 455,309.7" fill="#cbcbd3"/>
<rect x="451" y="307.9" width="4" height="1.8" fill="#cbcbd3"/>
<rect x="455.7" y="304.3" width="3.8" height="5.4" fill="#f01418"/>
<rect x="459.5" y="304.3" width="0.9" height="5.4" fill="#f6a0a6"/>
<rect x="460.4" y="303.9" width="3.8" height="5.8" fill="#f01418"/>
<rect x="465.3" y="309.7" width="2.6" height="4.5" fill="#3030d0"/>
<rect x="465.3" y="309.7" width="0.7" height="7.8" fill="#3030d0"/>
<rect x="468" y="306.1" width="2.5" height="3.6" fill="#f05458"/>
<rect x="470.5" y="303.2" width="3" height="6.5" fill="#f01418"/>
<rect x="473.5" y="303.2" width="1.5" height="6.5" fill="#f6a0a6"/>
<rect x="475" y="301.3" width="2.2" height="8.4" fill="#f01418"/>
<rect x="477.2" y="297.7" width="1.2" height="12" fill="#d2101c"/>
<rect x="479" y="309.7" width="37" height="1.5" fill="#cbcbd3"/>
<line x1="24.5" y1="309.7" x2="516.5" y2="309.7" stroke="#9090aa" stroke-width="0.8"/>
<rect x="24.5" y="268.7" width="492" height="82.1" fill="none" stroke="#e6e6e6" stroke-width="0.8"/>
<line x1="24.5" y1="275.6" x2="24.5" y2="343.8" stroke="#d6d6d6" stroke-width="0.8"/>
<line x1="109.9" y1="350.8" x2="451.5" y2="350.8" stroke="#d6d6d6" stroke-width="0.8"/>
<line x1="21.8" y1="275.6" x2="24.5" y2="275.6" stroke="#c8c8c8" stroke-width="0.6"/>
<text transform="translate(18.1,275.6) rotate(-90)" text-anchor="middle" font-size="5.6" fill="#000" stroke="#000" stroke-width="0.18">0.4</text>
<line x1="21.8" y1="292.65" x2="24.5" y2="292.65" stroke="#c8c8c8" stroke-width="0.6"/>
<text transform="translate(18.1,292.65) rotate(-90)" text-anchor="middle" font-size="5.6" fill="#000" stroke="#000" stroke-width="0.18">0.2</text>
<line x1="21.8" y1="309.7" x2="24.5" y2="309.7" stroke="#c8c8c8" stroke-width="0.6"/>
<text transform="translate(18.1,309.7) rotate(-90)" text-anchor="middle" font-size="5.6" fill="#000" stroke="#000" stroke-width="0.18">0.0</text>
<line x1="21.8" y1="326.75" x2="24.5" y2="326.75" stroke="#c8c8c8" stroke-width="0.6"/>
<text transform="translate(18.1,326.75) rotate(-90)" text-anchor="middle" font-size="5.6" fill="#000" stroke="#000" stroke-width="0.18">-0.2</text>
<line x1="21.8" y1="343.8" x2="24.5" y2="343.8" stroke="#c8c8c8" stroke-width="0.6"/>
<text transform="translate(18.1,343.8) rotate(-90)" text-anchor="middle" font-size="5.6" fill="#000" stroke="#000" stroke-width="0.18">-0.4</text>
<text transform="translate(4.7,309.7) rotate(-90)" text-anchor="middle" font-size="5.5" fill="#000" stroke="#000" stroke-width="0.18">frequency</text>
<line x1="109.9" y1="350.8" x2="109.9" y2="352.8" stroke="#c8c8c8" stroke-width="0.6"/>
<text x="110.4" y="362.2" text-anchor="middle" font-size="5.4" fill="#000" stroke="#000" stroke-width="0.18">5.0e+08</text>
<line x1="195.3" y1="350.8" x2="195.3" y2="352.8" stroke="#c8c8c8" stroke-width="0.6"/>
<text x="195.8" y="362.2" text-anchor="middle" font-size="5.4" fill="#000" stroke="#000" stroke-width="0.18">1.0e+09</text>
<line x1="280.7" y1="350.8" x2="280.7" y2="352.8" stroke="#c8c8c8" stroke-width="0.6"/>
<text x="281.2" y="362.2" text-anchor="middle" font-size="5.4" fill="#000" stroke="#000" stroke-width="0.18">1.5e+09</text>
<line x1="366.1" y1="350.8" x2="366.1" y2="352.8" stroke="#c8c8c8" stroke-width="0.6"/>
<text x="366.6" y="362.2" text-anchor="middle" font-size="5.4" fill="#000" stroke="#000" stroke-width="0.18">2.0e+09</text>
<line x1="451.5" y1="350.8" x2="451.5" y2="352.8" stroke="#c8c8c8" stroke-width="0.6"/>
<text x="452" y="362.2" text-anchor="middle" font-size="5.4" fill="#000" stroke="#000" stroke-width="0.18">2.5e+09</text>
<text x="43.5" y="346.6" text-anchor="middle" font-size="5.0" fill="#000" stroke="#000" stroke-width="0.18">1</text>
<text x="87.5" y="346.6" text-anchor="middle" font-size="5.0" fill="#000" stroke="#000" stroke-width="0.18">2</text>
<text x="127.1" y="346.6" text-anchor="middle" font-size="5.0" fill="#000" stroke="#000" stroke-width="0.18">3</text>
<text x="156.9" y="346.6" text-anchor="middle" font-size="5.0" fill="#000" stroke="#000" stroke-width="0.18">4</text>
<text x="196.7" y="346.6" text-anchor="middle" font-size="5.0" fill="#000" stroke="#000" stroke-width="0.18">5</text>
<text x="218.3" y="346.6" text-anchor="middle" font-size="5.0" fill="#000" stroke="#000" stroke-width="0.18">6</text>
<text x="251.8" y="346.6" text-anchor="middle" font-size="5.0" fill="#000" stroke="#000" stroke-width="0.18">7</text>
<text x="274.4" y="346.6" text-anchor="middle" font-size="5.0" fill="#000" stroke="#000" stroke-width="0.18">8</text>
<text x="304.6" y="346.6" text-anchor="middle" font-size="5.0" fill="#000" stroke="#000" stroke-width="0.18">9</text>
<text x="326.1" y="346.6" text-anchor="middle" font-size="5.0" fill="#000" stroke="#000" stroke-width="0.18">10</text>
<text x="346.5" y="346.6" text-anchor="middle" font-size="5.0" fill="#000" stroke="#000" stroke-width="0.18">11</text>
<text x="367.7" y="346.6" text-anchor="middle" font-size="5.0" fill="#000" stroke="#000" stroke-width="0.18">12</text>
<text x="389.2" y="346.6" text-anchor="middle" font-size="5.0" fill="#000" stroke="#000" stroke-width="0.18">13</text>
<text x="412.7" y="346.6" text-anchor="middle" font-size="5.0" fill="#000" stroke="#000" stroke-width="0.18">14</text>
<text x="429.6" y="346.6" text-anchor="middle" font-size="5.0" fill="#000" stroke="#000" stroke-width="0.18">15</text>
<text x="440.4" y="346.6" text-anchor="middle" font-size="5.0" fill="#000" stroke="#000" stroke-width="0.18">16</text>
<text x="457.3" y="346.6" text-anchor="middle" font-size="5.0" fill="#000" stroke="#000" stroke-width="0.18">17</text>
<text x="470.1" y="346.6" text-anchor="middle" font-size="5.0" fill="#000" stroke="#000" stroke-width="0.18">18</text>
<text x="485.5" y="346.6" text-anchor="middle" font-size="5.0" fill="#000" stroke="#000" stroke-width="0.18">19</text>
<text x="495.3" y="346.6" text-anchor="middle" font-size="5.0" fill="#000" stroke="#000" stroke-width="0.18">20</text>
<text x="506.3" y="346.6" text-anchor="middle" font-size="5.0" fill="#000" stroke="#000" stroke-width="0.18">21</text>
<text x="513.7" y="346.6" text-anchor="middle" font-size="5.0" fill="#000" stroke="#000" stroke-width="0.18">22</text>
<text x="270.5" y="258.7" text-anchor="middle" font-size="6.5" font-weight="bold" fill="#000">SMZL</text>
<text x="-0.2" y="261.9" font-size="12" font-weight="bold" fill="#000">C</text>
</g>
<g>
<line x1="46.35" y1="392.2" x2="46.35" y2="474.35" stroke="#efefef" stroke-width="0.7"/>
<line x1="83.5" y1="392.2" x2="83.5" y2="474.35" stroke="#efefef" stroke-width="0.7"/>
<line x1="124.64" y1="392.2" x2="124.64" y2="474.35" stroke="#efefef" stroke-width="0.7"/>
<line x1="151.5" y1="392.2" x2="151.5" y2="474.35" stroke="#efefef" stroke-width="0.7"/>
<line x1="183.8" y1="392.2" x2="183.8" y2="474.35" stroke="#efefef" stroke-width="0.7"/>
<line x1="216.9" y1="392.2" x2="216.9" y2="474.35" stroke="#efefef" stroke-width="0.7"/>
<line x1="245.9" y1="392.2" x2="245.9" y2="474.35" stroke="#efefef" stroke-width="0.7"/>
<line x1="270.65" y1="392.2" x2="270.65" y2="474.35" stroke="#efefef" stroke-width="0.7"/>
<line x1="296.2" y1="392.2" x2="296.2" y2="474.35" stroke="#efefef" stroke-width="0.7"/>
<line x1="318.85" y1="392.2" x2="318.85" y2="474.35" stroke="#efefef" stroke-width="0.7"/>
<line x1="344.3" y1="392.2" x2="344.3" y2="474.35" stroke="#efefef" stroke-width="0.7"/>
<line x1="364.3" y1="392.2" x2="364.3" y2="474.35" stroke="#efefef" stroke-width="0.7"/>
<line x1="384.1" y1="392.2" x2="384.1" y2="474.35" stroke="#efefef" stroke-width="0.7"/>
<line x1="403.7" y1="392.2" x2="403.7" y2="474.35" stroke="#efefef" stroke-width="0.7"/>
<line x1="422.3" y1="392.2" x2="422.3" y2="474.35" stroke="#efefef" stroke-width="0.7"/>
<line x1="442.8" y1="392.2" x2="442.8" y2="474.35" stroke="#efefef" stroke-width="0.7"/>
<line x1="456.1" y1="392.2" x2="456.1" y2="474.35" stroke="#efefef" stroke-width="0.7"/>
<line x1="468.8" y1="392.2" x2="468.8" y2="474.35" stroke="#efefef" stroke-width="0.7"/>
<line x1="483.7" y1="392.2" x2="483.7" y2="474.35" stroke="#efefef" stroke-width="0.7"/>
<line x1="494" y1="392.2" x2="494" y2="474.35" stroke="#efefef" stroke-width="0.7"/>
<line x1="502.3" y1="392.2" x2="502.3" y2="474.35" stroke="#efefef" stroke-width="0.7"/>
<line x1="510.8" y1="392.2" x2="510.8" y2="474.35" stroke="#efefef" stroke-width="0.7"/>
<line x1="67.07" y1="392.2" x2="67.07" y2="474.35" stroke="#d2d2d2" stroke-width="0.8"/>
<line x1="108.6" y1="392.2" x2="108.6" y2="474.35" stroke="#d2d2d2" stroke-width="0.8"/>
<line x1="142.4" y1="392.2" x2="142.4" y2="474.35" stroke="#d2d2d2" stroke-width="0.8"/>
<line x1="175.06" y1="392.2" x2="175.06" y2="474.35" stroke="#d2d2d2" stroke-width="0.8"/>
<line x1="205.96" y1="392.2" x2="205.96" y2="474.35" stroke="#d2d2d2" stroke-width="0.8"/>
<line x1="235.19" y1="392.2" x2="235.19" y2="474.35" stroke="#d2d2d2" stroke-width="0.8"/>
<line x1="262.36" y1="392.2" x2="262.36" y2="474.35" stroke="#d2d2d2" stroke-width="0.8"/>
<line x1="287.36" y1="392.2" x2="287.36" y2="474.35" stroke="#d2d2d2" stroke-width="0.8"/>
<line x1="311.48" y1="392.2" x2="311.48" y2="474.35" stroke="#d2d2d2" stroke-width="0.8"/>
<line x1="334.63" y1="392.2" x2="334.63" y2="474.35" stroke="#d2d2d2" stroke-width="0.8"/>
<line x1="357.68" y1="392.2" x2="357.68" y2="474.35" stroke="#d2d2d2" stroke-width="0.8"/>
<line x1="380.54" y1="392.2" x2="380.54" y2="474.35" stroke="#d2d2d2" stroke-width="0.8"/>
<line x1="400.21" y1="392.2" x2="400.21" y2="474.35" stroke="#d2d2d2" stroke-width="0.8"/>
<line x1="418.54" y1="392.2" x2="418.54" y2="474.35" stroke="#d2d2d2" stroke-width="0.8"/>
<line x1="436.05" y1="392.2" x2="436.05" y2="474.35" stroke="#d2d2d2" stroke-width="0.8"/>
<line x1="451.48" y1="392.2" x2="451.48" y2="474.35" stroke="#d2d2d2" stroke-width="0.8"/>
<line x1="465.34" y1="392.2" x2="465.34" y2="474.35" stroke="#d2d2d2" stroke-width="0.8"/>
<line x1="478.68" y1="392.2" x2="478.68" y2="474.35" stroke="#d2d2d2" stroke-width="0.8"/>
<line x1="488.78" y1="392.2" x2="488.78" y2="474.35" stroke="#d2d2d2" stroke-width="0.8"/>
<line x1="499.54" y1="392.2" x2="499.54" y2="474.35" stroke="#d2d2d2" stroke-width="0.8"/>
<line x1="507.76" y1="392.2" x2="507.76" y2="474.35" stroke="#d2d2d2" stroke-width="0.8"/>
<rect x="25.3" y="432.18" width="0.7" height="0.92" fill="#a4a4b4"/>
<rect x="26.81" y="433.1" width="0.7" height="1.25" fill="#a4a4b4"/>
<rect x="28.31" y="431.79" width="0.7" height="1.31" fill="#a4a4b4"/>
<rect x="29.76" y="432.44" width="0.7" height="0.66" fill="#a4a4b4"/>
<rect x="32.14" y="432.39" width="0.7" height="0.71" fill="#a4a4b4"/>
<rect x="33.41" y="432.14" width="0.7" height="0.96" fill="#a4a4b4"/>
<rect x="34.77" y="431.88" width="0.7" height="1.22" fill="#a4a4b4"/>
<rect x="37.26" y="432.3" width="0.7" height="0.8" fill="#a4a4b4"/>
<rect x="38.72" y="433.1" width="0.7" height="0.75" fill="#a4a4b4"/>
<rect x="41.16" y="433.1" width="0.7" height="0.64" fill="#a4a4b4"/>
<rect x="43.06" y="432.18" width="0.7" height="0.92" fill="#a4a4b4"/>
<rect x="44.97" y="433.1" width="0.7" height="1.49" fill="#a4a4b4"/>
<rect x="46.39" y="432.4" width="0.7" height="0.7" fill="#a4a4b4"/>
<rect x="47.64" y="433.1" width="0.7" height="1.33" fill="#a4a4b4"/>
<rect x="49.02" y="431.88" width="0.7" height="1.22" fill="#a4a4b4"/>
<rect x="50.38" y="433.1" width="0.7" height="0.99" fill="#a4a4b4"/>
<rect x="51.81" y="433.1" width="0.7" height="1.22" fill="#a4a4b4"/>
<rect x="53.4" y="433.1" width="0.7" height="1.49" fill="#a4a4b4"/>
<rect x="55.38" y="433.1" width="0.7" height="0.74" fill="#a4a4b4"/>
<rect x="56.7" y="431.91" width="0.7" height="1.19" fill="#a4a4b4"/>
<rect x="58.83" y="433.1" width="0.7" height="1.14" fill="#a4a4b4"/>
<rect x="60.97" y="433.1" width="0.7" height="1.14" fill="#a4a4b4"/>
<rect x="62.18" y="433.1" width="0.7" height="1.16" fill="#a4a4b4"/>
<rect x="63.95" y="433.1" width="0.7" height="0.63" fill="#a4a4b4"/>
<rect x="66.03" y="433.1" width="0.7" height="1.4" fill="#a4a4b4"/>
<rect x="67.87" y="433.1" width="0.7" height="1.2" fill="#a4a4b4"/>
<rect x="69.58" y="433.1" width="0.7" height="0.63" fill="#a4a4b4"/>
<rect x="71.09" y="432.14" width="0.7" height="0.96" fill="#a4a4b4"/>
<rect x="73.34" y="433.1" width="0.7" height="1.43" fill="#a4a4b4"/>
<rect x="75" y="431.82" width="0.7" height="1.28" fill="#a4a4b4"/>
<rect x="77.19" y="433.1" width="0.7" height="1.48" fill="#a4a4b4"/>
<rect x="79.29" y="431.79" width="0.7" height="1.31" fill="#a4a4b4"/>
<rect x="81.6" y="433.1" width="0.7" height="1.16" fill="#a4a4b4"/>
<rect x="83.4" y="432.21" width="0.7" height="0.89" fill="#a4a4b4"/>
<rect x="85.18" y="433.1" width="0.7" height="1.05" fill="#a4a4b4"/>
<rect x="86.45" y="433.1" width="0.7" height="0.65" fill="#a4a4b4"/>
<rect x="87.66" y="433.1" width="0.7" height="1.13" fill="#a4a4b4"/>
<rect x="89.7" y="432.15" width="0.7" height="0.95" fill="#a4a4b4"/>
<rect x="90.92" y="432.42" width="0.7" height="0.68" fill="#a4a4b4"/>
<rect x="92.28" y="431.9" width="0.7" height="1.2" fill="#a4a4b4"/>
<rect x="94.73" y="433.1" width="0.7" height="1.23" fill="#a4a4b4"/>
<rect x="96.14" y="432.42" width="0.7" height="0.68" fill="#a4a4b4"/>
<rect x="98.49" y="433.1" width="0.7" height="1.15" fill="#a4a4b4"/>
<rect x="100.08" y="433.1" width="0.7" height="1.38" fill="#a4a4b4"/>
<rect x="101.94" y="433.1" width="0.7" height="0.92" fill="#a4a4b4"/>
<rect x="104.07" y="431.7" width="0.7" height="1.4" fill="#a4a4b4"/>
<rect x="106.02" y="433.1" width="0.7" height="1.16" fill="#a4a4b4"/>
<rect x="109.4" y="432.04" width="0.7" height="1.06" fill="#a4a4b4"/>
<rect x="111.26" y="432.44" width="0.7" height="0.66" fill="#a4a4b4"/>
<rect x="112.72" y="433.1" width="0.7" height="1.4" fill="#a4a4b4"/>
<rect x="114.63" y="432.18" width="0.7" height="0.92" fill="#a4a4b4"/>
<rect x="116.69" y="433.1" width="0.7" height="1.3" fill="#a4a4b4"/>
<rect x="118.07" y="433.1" width="0.7" height="0.67" fill="#a4a4b4"/>
<rect x="120.02" y="432.18" width="0.7" height="0.92" fill="#a4a4b4"/>
<rect x="121.97" y="432.16" width="0.7" height="0.94" fill="#a4a4b4"/>
<rect x="124.52" y="431.87" width="0.7" height="1.23" fill="#a4a4b4"/>
<rect x="126.48" y="433.1" width="0.7" height="0.85" fill="#a4a4b4"/>
<rect x="127.71" y="433.1" width="0.7" height="0.79" fill="#a4a4b4"/>
<rect x="129" y="433.1" width="0.7" height="1.31" fill="#a4a4b4"/>
<rect x="130.67" y="432.49" width="0.7" height="0.61" fill="#a4a4b4"/>
<rect x="131.95" y="432.4" width="0.7" height="0.7" fill="#a4a4b4"/>
<rect x="134.36" y="433.1" width="0.7" height="0.96" fill="#a4a4b4"/>
<rect x="136.88" y="433.1" width="0.7" height="0.7" fill="#a4a4b4"/>
<rect x="138.13" y="432.17" width="0.7" height="0.93" fill="#a4a4b4"/>
<rect x="139.52" y="433.1" width="0.7" height="1.35" fill="#a4a4b4"/>
<rect x="140.93" y="431.9" width="0.7" height="1.2" fill="#a4a4b4"/>
<rect x="143.2" y="433.1" width="0.7" height="0.52" fill="#a4a4b4"/>
<rect x="144.45" y="433.1" width="0.7" height="0.42" fill="#a4a4b4"/>
<rect x="146.77" y="432.29" width="0.7" height="0.81" fill="#a4a4b4"/>
<rect x="148.51" y="432.74" width="0.7" height="0.36" fill="#a4a4b4"/>
<rect x="149.89" y="433.1" width="0.7" height="0.42" fill="#a4a4b4"/>
<rect x="151.86" y="433.1" width="0.7" height="0.52" fill="#a4a4b4"/>
<rect x="154.28" y="433.1" width="0.7" height="0.79" fill="#a4a4b4"/>
<rect x="156.27" y="432.64" width="0.7" height="0.46" fill="#a4a4b4"/>
<rect x="158.49" y="432.33" width="0.7" height="0.77" fill="#a4a4b4"/>
<rect x="160.31" y="433.1" width="0.7" height="0.37" fill="#a4a4b4"/>
<rect x="162.27" y="433.1" width="0.7" height="0.77" fill="#a4a4b4"/>
<rect x="164.12" y="433.1" width="0.7" height="0.42" fill="#a4a4b4"/>
<rect x="166.11" y="433.1" width="0.7" height="0.44" fill="#a4a4b4"/>
<rect x="167.74" y="433.1" width="0.7" height="0.78" fill="#a4a4b4"/>
<rect x="169.47" y="433.1" width="0.7" height="0.51" fill="#a4a4b4"/>
<rect x="171.33" y="433.1" width="0.7" height="0.37" fill="#a4a4b4"/>
<rect x="173.45" y="433.1" width="0.7" height="0.4" fill="#a4a4b4"/>
<rect x="175.86" y="433.1" width="0.7" height="0.46" fill="#a4a4b4"/>
<rect x="178.37" y="432.21" width="0.7" height="0.89" fill="#a4a4b4"/>
<rect x="180.63" y="432.5" width="0.7" height="0.6" fill="#a4a4b4"/>
<rect x="183.14" y="432.35" width="0.7" height="0.75" fill="#a4a4b4"/>
<rect x="184.65" y="433.1" width="0.7" height="0.83" fill="#a4a4b4"/>
<rect x="186.06" y="433.1" width="0.7" height="0.84" fill="#a4a4b4"/>
<rect x="187.37" y="433.1" width="0.7" height="0.77" fill="#a4a4b4"/>
<rect x="189.4" y="432.37" width="0.7" height="0.73" fill="#a4a4b4"/>
<rect x="191.94" y="432.71" width="0.7" height="0.39" fill="#a4a4b4"/>
<rect x="194.47" y="433.1" width="0.7" height="0.42" fill="#a4a4b4"/>
<rect x="196.44" y="432.61" width="0.7" height="0.49" fill="#a4a4b4"/>
<rect x="197.83" y="433.1" width="0.7" height="0.49" fill="#a4a4b4"/>
<rect x="200.28" y="433.1" width="0.7" height="0.82" fill="#a4a4b4"/>
<rect x="202.75" y="432.3" width="0.7" height="0.8" fill="#a4a4b4"/>
<rect x="204.43" y="433.1" width="0.7" height="0.57" fill="#a4a4b4"/>
<rect x="206.76" y="433.1" width="0.7" height="1.03" fill="#a4a4b4"/>
<rect x="209.03" y="433.1" width="0.7" height="0.86" fill="#a4a4b4"/>
<rect x="210.97" y="431.81" width="0.7" height="1.29" fill="#a4a4b4"/>
<rect x="212.96" y="433.1" width="0.7" height="0.95" fill="#a4a4b4"/>
<rect x="214.39" y="433.1" width="0.7" height="0.82" fill="#a4a4b4"/>
<rect x="216.82" y="433.1" width="0.7" height="0.75" fill="#a4a4b4"/>
<rect x="219.09" y="432.12" width="0.7" height="0.98" fill="#a4a4b4"/>
<rect x="220.54" y="432.33" width="0.7" height="0.77" fill="#a4a4b4"/>
<rect x="222.85" y="432.02" width="0.7" height="1.08" fill="#a4a4b4"/>
<rect x="224.25" y="431.94" width="0.7" height="1.16" fill="#a4a4b4"/>
<rect x="225.83" y="431.9" width="0.7" height="1.2" fill="#a4a4b4"/>
<rect x="227.09" y="431.96" width="0.7" height="1.14" fill="#a4a4b4"/>
<rect x="229.59" y="432.17" width="0.7" height="0.93" fill="#a4a4b4"/>
<rect x="231.83" y="433.1" width="0.7" height="1.06" fill="#a4a4b4"/>
<rect x="233.25" y="433.1" width="0.7" height="0.79" fill="#a4a4b4"/>
<rect x="235.99" y="433.1" width="0.7" height="1.18" fill="#a4a4b4"/>
<rect x="238.08" y="433.1" width="0.7" height="1.28" fill="#a4a4b4"/>
<rect x="239.92" y="433.1" width="0.7" height="0.67" fill="#a4a4b4"/>
<rect x="241.65" y="431.9" width="0.7" height="1.2" fill="#a4a4b4"/>
<rect x="243.98" y="431.61" width="0.7" height="1.49" fill="#a4a4b4"/>
<rect x="245.81" y="433.1" width="0.7" height="1.39" fill="#a4a4b4"/>
<rect x="247.26" y="432.27" width="0.7" height="0.83" fill="#a4a4b4"/>
<rect x="248.71" y="433.1" width="0.7" height="1.07" fill="#a4a4b4"/>
<rect x="250.54" y="433.1" width="0.7" height="0.69" fill="#a4a4b4"/>
<rect x="251.99" y="433.1" width="0.7" height="1.28" fill="#a4a4b4"/>
<rect x="253.57" y="431.81" width="0.7" height="1.29" fill="#a4a4b4"/>
<rect x="256.04" y="433.1" width="0.7" height="0.82" fill="#a4a4b4"/>
<rect x="257.45" y="432" width="0.7" height="1.1" fill="#a4a4b4"/>
<rect x="260.05" y="432.01" width="0.7" height="1.09" fill="#a4a4b4"/>
<rect x="263.16" y="432.46" width="0.7" height="0.64" fill="#a4a4b4"/>
<rect x="265.14" y="433.1" width="0.7" height="1.31" fill="#a4a4b4"/>
<rect x="267.25" y="432.28" width="0.7" height="0.82" fill="#a4a4b4"/>
<rect x="268.45" y="433.1" width="0.7" height="1.3" fill="#a4a4b4"/>
<rect x="270.37" y="432.31" width="0.7" height="0.79" fill="#a4a4b4"/>
<rect x="272.33" y="433.1" width="0.7" height="0.8" fill="#a4a4b4"/>
<rect x="274.92" y="432.44" width="0.7" height="0.66" fill="#a4a4b4"/>
<rect x="277.11" y="431.64" width="0.7" height="1.46" fill="#a4a4b4"/>
<rect x="278.51" y="433.1" width="0.7" height="1.25" fill="#a4a4b4"/>
<rect x="280.97" y="432.32" width="0.7" height="0.78" fill="#a4a4b4"/>
<rect x="283.28" y="433.1" width="0.7" height="1.42" fill="#a4a4b4"/>
<rect x="284.99" y="433.1" width="0.7" height="1.14" fill="#a4a4b4"/>
<rect x="288.16" y="432.44" width="0.7" height="0.66" fill="#a4a4b4"/>
<rect x="290.68" y="433.1" width="0.7" height="0.44" fill="#a4a4b4"/>
<rect x="292.34" y="432.57" width="0.7" height="0.53" fill="#a4a4b4"/>
<rect x="294.53" y="432.55" width="0.7" height="0.55" fill="#a4a4b4"/>
<rect x="296.47" y="432.46" width="0.7" height="0.64" fill="#a4a4b4"/>
<rect x="297.84" y="433.1" width="0.7" height="0.68" fill="#a4a4b4"/>
<rect x="300.41" y="433.1" width="0.7" height="0.42" fill="#a4a4b4"/>
<rect x="302.52" y="433.1" width="0.7" height="0.61" fill="#a4a4b4"/>
<rect x="304.29" y="432.59" width="0.7" height="0.51" fill="#a4a4b4"/>
<rect x="306.29" y="432.73" width="0.7" height="0.37" fill="#a4a4b4"/>
<rect x="308.33" y="432.59" width="0.7" height="0.51" fill="#a4a4b4"/>
<rect x="312.28" y="432.43" width="0.7" height="0.67" fill="#a4a4b4"/>
<rect x="313.88" y="433.1" width="0.7" height="0.32" fill="#a4a4b4"/>
<rect x="315.21" y="432.4" width="0.7" height="0.7" fill="#a4a4b4"/>
<rect x="316.57" y="433.1" width="0.7" height="0.63" fill="#a4a4b4"/>
<rect x="318.35" y="432.55" width="0.7" height="0.55" fill="#a4a4b4"/>
<rect x="320.35" y="433.1" width="0.7" height="0.33" fill="#a4a4b4"/>
<rect x="322.05" y="433.1" width="0.7" height="0.47" fill="#a4a4b4"/>
<rect x="323.9" y="432.72" width="0.7" height="0.38" fill="#a4a4b4"/>
<rect x="326.12" y="433.1" width="0.7" height="0.5" fill="#a4a4b4"/>
<rect x="328.55" y="433.1" width="0.7" height="0.39" fill="#a4a4b4"/>
<rect x="330.94" y="432.72" width="0.7" height="0.38" fill="#a4a4b4"/>
<rect x="333.47" y="433.1" width="0.7" height="0.31" fill="#a4a4b4"/>
<rect x="335.43" y="433.1" width="0.7" height="1.88" fill="#a4a4b4"/>
<rect x="337.34" y="433.1" width="0.7" height="1.64" fill="#a4a4b4"/>
<rect x="338.67" y="432.04" width="0.7" height="1.06" fill="#a4a4b4"/>
<rect x="340.9" y="433.1" width="0.7" height="2.01" fill="#a4a4b4"/>
<rect x="342.3" y="433.1" width="0.7" height="1.84" fill="#a4a4b4"/>
<rect x="344.05" y="433.1" width="0.7" height="1.33" fill="#a4a4b4"/>
<rect x="346.63" y="433.1" width="0.7" height="0.98" fill="#a4a4b4"/>
<rect x="348.91" y="431.03" width="0.7" height="2.07" fill="#a4a4b4"/>
<rect x="351.15" y="433.1" width="0.7" height="0.97" fill="#a4a4b4"/>
<rect x="353.2" y="431.5" width="0.7" height="1.6" fill="#a4a4b4"/>
<rect x="355.73" y="432.02" width="0.7" height="1.08" fill="#a4a4b4"/>
<rect x="358.48" y="433.1" width="0.7" height="1.45" fill="#a4a4b4"/>
<rect x="359.84" y="432.47" width="0.7" height="0.63" fill="#a4a4b4"/>
<rect x="361.93" y="433.1" width="0.7" height="0.81" fill="#a4a4b4"/>
<rect x="363.62" y="433.1" width="0.7" height="1.39" fill="#a4a4b4"/>
<rect x="365.53" y="433.1" width="0.7" height="0.88" fill="#a4a4b4"/>
<rect x="367.72" y="433.1" width="0.7" height="0.67" fill="#a4a4b4"/>
<rect x="369" y="433.1" width="0.7" height="0.8" fill="#a4a4b4"/>
<rect x="371.29" y="433.1" width="0.7" height="1.19" fill="#a4a4b4"/>
<rect x="372.79" y="433.1" width="0.7" height="0.98" fill="#a4a4b4"/>
<rect x="375.06" y="431.8" width="0.7" height="1.3" fill="#a4a4b4"/>
<rect x="377.17" y="432.33" width="0.7" height="0.77" fill="#a4a4b4"/>
<rect x="378.4" y="432.15" width="0.7" height="0.95" fill="#a4a4b4"/>
<rect x="381.34" y="432.1" width="0.7" height="1" fill="#a4a4b4"/>
<rect x="382.99" y="433.1" width="0.7" height="0.98" fill="#a4a4b4"/>
<rect x="385.38" y="433.1" width="0.7" height="1.56" fill="#a4a4b4"/>
<rect x="387.3" y="433.1" width="0.7" height="1.79" fill="#a4a4b4"/>
<rect x="389.67" y="431.63" width="0.7" height="1.47" fill="#a4a4b4"/>
<rect x="392.03" y="433.1" width="0.7" height="1.06" fill="#a4a4b4"/>
<rect x="393.27" y="433.1" width="0.7" height="0.94" fill="#a4a4b4"/>
<rect x="394.54" y="432.19" width="0.7" height="0.91" fill="#a4a4b4"/>
<rect x="396.02" y="431.23" width="0.7" height="1.87" fill="#a4a4b4"/>
<rect x="397.93" y="432.13" width="0.7" height="0.97" fill="#a4a4b4"/>
<rect x="401.01" y="433.1" width="0.7" height="1.82" fill="#a4a4b4"/>
<rect x="402.48" y="431.49" width="0.7" height="1.61" fill="#a4a4b4"/>
<rect x="404.15" y="433.1" width="0.7" height="1.76" fill="#a4a4b4"/>
<rect x="406.54" y="433.1" width="0.7" height="1.63" fill="#a4a4b4"/>
<rect x="408.46" y="433.1" width="0.7" height="1.06" fill="#a4a4b4"/>
<rect x="410.3" y="433.1" width="0.7" height="2.06" fill="#a4a4b4"/>
<rect x="412.8" y="431.45" width="0.7" height="1.65" fill="#a4a4b4"/>
<rect x="414.47" y="433.1" width="0.7" height="1.86" fill="#a4a4b4"/>
<rect x="416.47" y="431.11" width="0.7" height="1.99" fill="#a4a4b4"/>
<rect x="419.34" y="431.9" width="0.7" height="1.2" fill="#a4a4b4"/>
<rect x="421.43" y="431.23" width="0.7" height="1.87" fill="#a4a4b4"/>
<rect x="423.36" y="433.1" width="0.7" height="1.48" fill="#a4a4b4"/>
<rect x="424.95" y="433.1" width="0.7" height="0.97" fill="#a4a4b4"/>
<rect x="427.2" y="431.56" width="0.7" height="1.54" fill="#a4a4b4"/>
<rect x="428.57" y="433.1" width="0.7" height="1.68" fill="#a4a4b4"/>
<rect x="429.78" y="433.1" width="0.7" height="1.72" fill="#a4a4b4"/>
<rect x="432.29" y="433.1" width="0.7" height="1.64" fill="#a4a4b4"/>
<rect x="434.64" y="433.1" width="0.7" height="1.43" fill="#a4a4b4"/>
<rect x="436.85" y="433.1" width="0.7" height="1.69" fill="#a4a4b4"/>
<rect x="438.59" y="433.1" width="0.7" height="1.2" fill="#a4a4b4"/>
<rect x="439.8" y="433.1" width="0.7" height="1.39" fill="#a4a4b4"/>
<rect x="441.25" y="433.1" width="0.7" height="1.75" fill="#a4a4b4"/>
<rect x="442.51" y="433.1" width="0.7" height="1" fill="#a4a4b4"/>
<rect x="444.11" y="430.96" width="0.7" height="2.14" fill="#a4a4b4"/>
<rect x="446.15" y="433.1" width="0.7" height="1.53" fill="#a4a4b4"/>
<rect x="447.77" y="431.78" width="0.7" height="1.32" fill="#a4a4b4"/>
<rect x="450.16" y="433.1" width="0.7" height="1" fill="#a4a4b4"/>
<rect x="452.28" y="432.49" width="0.7" height="0.61" fill="#a4a4b4"/>
<rect x="454.43" y="433.1" width="0.7" height="1.03" fill="#a4a4b4"/>
<rect x="456.44" y="433.1" width="0.7" height="1.17" fill="#a4a4b4"/>
<rect x="457.7" y="433.1" width="0.7" height="1.2" fill="#a4a4b4"/>
<rect x="460.2" y="433.1" width="0.7" height="1.01" fill="#a4a4b4"/>
<rect x="462.66" y="431.84" width="0.7" height="1.26" fill="#a4a4b4"/>
<rect x="464.48" y="433.1" width="0.7" height="1.23" fill="#a4a4b4"/>
<rect x="466.14" y="433.1" width="0.7" height="0.96" fill="#a4a4b4"/>
<rect x="468.62" y="431.61" width="0.7" height="1.49" fill="#a4a4b4"/>
<rect x="470.21" y="433.1" width="0.7" height="0.93" fill="#a4a4b4"/>
<rect x="471.85" y="433.1" width="0.7" height="0.81" fill="#a4a4b4"/>
<rect x="473.64" y="433.1" width="0.7" height="0.7" fill="#a4a4b4"/>
<rect x="475.2" y="431.67" width="0.7" height="1.43" fill="#a4a4b4"/>
<rect x="477.18" y="432.41" width="0.7" height="0.69" fill="#a4a4b4"/>
<rect x="479.48" y="433.1" width="0.7" height="1.1" fill="#a4a4b4"/>
<rect x="481.09" y="433.1" width="0.7" height="1.36" fill="#a4a4b4"/>
<rect x="483.36" y="433.1" width="0.7" height="1.43" fill="#a4a4b4"/>
<rect x="485.15" y="433.1" width="0.7" height="0.88" fill="#a4a4b4"/>
<rect x="487.26" y="433.1" width="0.7" height="1.2" fill="#a4a4b4"/>
<rect x="489.58" y="433.1" width="0.7" height="1.22" fill="#a4a4b4"/>
<rect x="491.21" y="431.24" width="0.7" height="1.86" fill="#a4a4b4"/>
<rect x="492.89" y="431.78" width="0.7" height="1.32" fill="#a4a4b4"/>
<rect x="495.21" y="433.1" width="0.7" height="1.08" fill="#a4a4b4"/>
<rect x="496.78" y="433.1" width="0.7" height="1.96" fill="#a4a4b4"/>
<rect x="498.71" y="433.1" width="0.7" height="1.57" fill="#a4a4b4"/>
<rect x="500.34" y="430.54" width="0.7" height="2.56" fill="#a4a4b4"/>
<rect x="501.54" y="433.1" width="0.7" height="1.64" fill="#a4a4b4"/>
<rect x="502.8" y="433.1" width="0.7" height="1.41" fill="#a4a4b4"/>
<rect x="505" y="433.1" width="0.7" height="1.35" fill="#a4a4b4"/>
<rect x="506.92" y="433.1" width="0.7" height="2.25" fill="#a4a4b4"/>
<rect x="508.56" y="433.1" width="0.7" height="1.67" fill="#a4a4b4"/>
<rect x="510.87" y="433.1" width="0.7" height="1.59" fill="#a4a4b4"/>
<rect x="512.48" y="431.92" width="0.7" height="1.18" fill="#a4a4b4"/>
<rect x="514.93" y="433.1" width="0.7" height="1.76" fill="#a4a4b4"/>
<rect x="24.5" y="433.1" width="2.5" height="8.8" fill="#8080d8"/>
<rect x="24.7" y="433.1" width="0.8" height="10.6" fill="#8080d8"/>
<rect x="26.5" y="433.1" width="2.2" height="6.4" fill="#3030d0"/>
<rect x="34.5" y="433.1" width="10.1" height="5.9" fill="#cbcbd3"/>
<rect x="41.2" y="433.1" width="1" height="14.1" fill="#b4b4c0"/>
<rect x="48.9" y="433.1" width="1.5" height="10.3" fill="#3030d0"/>
<rect x="49.4" y="427" width="4.8" height="6.1" fill="#f05458"/>
<rect x="50.8" y="422.7" width="1.5" height="10.4" fill="#f01418"/>
<rect x="54.2" y="428.9" width="1.8" height="4.2" fill="#b8d8b8"/>
<rect x="57.1" y="430.4" width="9.6" height="2.7" fill="#cbcbd3"/>
<rect x="60.5" y="426.5" width="1" height="6.6" fill="#b4b4c0"/>
<rect x="57.1" y="433.1" width="9.6" height="3.1" fill="#cbcbd3"/>
<rect x="73.1" y="430.5" width="6.8" height="2.6" fill="#cbcbd3"/>
<rect x="75.5" y="418.1" width="1" height="15" fill="#dcdce4"/>
<rect x="73.1" y="433.1" width="6.8" height="3.4" fill="#cbcbd3"/>
<rect x="74.5" y="433.1" width="1" height="6.8" fill="#b4b4c0"/>
<rect x="108.9" y="420" width="0.5" height="13.1" fill="#f6a0a6"/>
<rect x="109.4" y="420" width="2.6" height="13.1" fill="#d2101c"/>
<rect x="112" y="420" width="1.3" height="13.1" fill="#f6a0a6"/>
<rect x="113.3" y="420" width="4.7" height="13.1" fill="#f01418"/>
<rect x="118" y="420" width="1.5" height="13.1" fill="#f05458"/>
<rect x="119.5" y="420" width="1.5" height="13.1" fill="#d2101c"/>
<rect x="122.4" y="420" width="0.6" height="13.1" fill="#f6a0a6"/>
<rect x="123.7" y="416.2" width="1.3" height="16.9" fill="#f6a0a6"/>
<rect x="125" y="416.2" width="3.5" height="16.9" fill="#f05458"/>
<rect x="128.5" y="416.2" width="4.5" height="16.9" fill="#d2101c"/>
<rect x="133" y="416.2" width="1.5" height="16.9" fill="#f05458"/>
<rect x="134.5" y="416.2" width="2.5" height="16.9" fill="#f01418"/>
<rect x="137" y="416.2" width="1.7" height="16.9" fill="#f6a0a6"/>
<rect x="138.7" y="416.2" width="2.8" height="16.9" fill="#d2101c"/>
<rect x="141.5" y="416.2" width="1.3" height="16.9" fill="#f05458"/>
<rect x="115" y="419.8" width="3" height="3.6" fill="#ffffff"/>
<rect x="139.6" y="413.2" width="1.7" height="19.9" fill="#d2101c"/>
<rect x="110.4" y="433.1" width="1" height="6" fill="#8c8cbc"/>
<rect x="206" y="426.4" width="10" height="6.7" fill="#cbcbd3"/>
<rect x="209" y="423.1" width="1" height="10" fill="#b4b4c0"/>
<rect x="213" y="423.1" width="1" height="10" fill="#b4b4c0"/>
<rect x="211.7" y="433.1" width="1" height="6.8" fill="#8888a0"/>
<rect x="218" y="433.1" width="4.8" height="3.1" fill="#cbcbd3"/>
<rect x="222.8" y="433.1" width="3.2" height="6.7" fill="#b0b0cc"/>
<rect x="224.1" y="433.1" width="0.8" height="10" fill="#b4b4c0"/>
<rect x="226" y="433.1" width="3" height="3.6" fill="#c8d0c8"/>
<polygon points="229,433.1 229,438.1 229.8,447 230.4,447 231.7,438.1 231.7,433.1" fill="#6464c8"/>
<rect x="229" y="433.1" width="2.7" height="6" fill="#6464c8"/>
<rect x="231.7" y="433.1" width="2.9" height="6.5" fill="#4444c8"/>
<rect x="232.6" y="433.1" width="0.8" height="10.6" fill="#4444c8"/>
<rect x="237.7" y="430.5" width="6" height="2.6" fill="#cbcbd3"/>
<rect x="251.8" y="427.1" width="11.5" height="6" fill="#f01418"/>
<rect x="255" y="427.1" width="1" height="6" fill="#f6a0a6"/>
<rect x="259" y="427.1" width="1" height="6" fill="#f6a0a6"/>
<rect x="271" y="429.8" width="11" height="3.3" fill="#cbcbd3"/>
<rect x="276" y="433.1" width="4" height="6.8" fill="#cbcbd3"/>
<rect x="284.6" y="427.1" width="2.7" height="6" fill="#f01418"/>
<rect x="285.5" y="424.2" width="0.8" height="8.9" fill="#f01418"/>
<rect x="288" y="433.1" width="6" height="5" fill="#cbcbd3"/>
<rect x="335" y="429.8" width="23" height="3.3" fill="#cbcbd3"/>
<rect x="340" y="426.2" width="1" height="6.9" fill="#b4b4c0"/>
<rect x="350" y="426.2" width="1" height="6.9" fill="#b4b4c0"/>
<rect x="335" y="433.1" width="25" height="3" fill="#cbcbd3"/>
<rect x="365" y="429.8" width="6" height="3.3" fill="#cbcbd3"/>
<rect x="366.5" y="433.1" width="1" height="6" fill="#b4b4c0"/>
<rect x="373.3" y="433.1" width="1.2" height="13.5" fill="#3030d0"/>
<rect x="386.4" y="433.1" width="3.4" height="10.2" fill="#8c8cbc"/>
<polygon points="389,433.1 389,432.6 391,423.1 393,432.6 393,433.1" fill="#d0dccc"/>
<rect x="396.5" y="426.4" width="3.8" height="6.7" fill="#f01418"/>
<rect x="399.6" y="433.1" width="1" height="10" fill="#8c8cbc"/>
<rect x="403.5" y="433.1" width="1" height="6" fill="#b4b4c0"/>
<rect x="417.5" y="433.1" width="1" height="6.8" fill="#8c8cbc"/>
<rect x="425" y="433.1" width="5" height="4" fill="#cbcbd3"/>
<rect x="451.4" y="429.9" width="13.1" height="3.2" fill="#dadae0"/>
<rect x="451.4" y="433.1" width="13.1" height="1.8" fill="#cbcbd3"/>
<rect x="456" y="433.1" width="0.8" height="4" fill="#b4b4c0"/>
<rect x="465.2" y="427.1" width="1.7" height="6" fill="#f01418"/>
<rect x="466.9" y="423.7" width="2.6" height="9.4" fill="#f01418"/>
<rect x="469.5" y="420.2" width="1.5" height="12.9" fill="#f6a0a6"/>
<rect x="472" y="420.2" width="5.2" height="12.9" fill="#f01418"/>
<rect x="474" y="420.2" width="1" height="12.9" fill="#f05458"/>
<rect x="477.2" y="420.2" width="1.1" height="12.9" fill="#d2101c"/>
<rect x="477.4" y="413.4" width="0.7" height="19.7" fill="#f4b0b0"/>
<rect x="465.2" y="433.1" width="1.7" height="6.9" fill="#3030d0"/>
<rect x="478" y="433.1" width="3.5" height="13.3" fill="#7070c0"/>
<rect x="484" y="430.9" width="14" height="2.2" fill="#dadae0"/>
<rect x="484" y="433.1" width="14" height="2" fill="#cbcbd3"/>
<rect x="500" y="430.5" width="15" height="2.6" fill="#dadae0"/>
<rect x="503" y="428.6" width="0.8" height="4.5" fill="#b4b4c0"/>
<rect x="510" y="429.1" width="0.8" height="4" fill="#b4b4c0"/>
<line x1="24.5" y1="433.1" x2="516.5" y2="433.1" stroke="#8c8cc8" stroke-width="0.8"/>
<rect x="24.5" y="392.2" width="492" height="82.15" fill="none" stroke="#e6e6e6" stroke-width="0.8"/>
<line x1="24.5" y1="399" x2="24.5" y2="467.2" stroke="#d6d6d6" stroke-width="0.8"/>
<line x1="109.9" y1="474.35" x2="451.5" y2="474.35" stroke="#d6d6d6" stroke-width="0.8"/>
<line x1="21.8" y1="399" x2="24.5" y2="399" stroke="#c8c8c8" stroke-width="0.6"/>
<text transform="translate(18.1,399) rotate(-90)" text-anchor="middle" font-size="5.6" fill="#000" stroke="#000" stroke-width="0.18">0.4</text>
<line x1="21.8" y1="416.05" x2="24.5" y2="416.05" stroke="#c8c8c8" stroke-width="0.6"/>
<text transform="translate(18.1,416.05) rotate(-90)" text-anchor="middle" font-size="5.6" fill="#000" stroke="#000" stroke-width="0.18">0.2</text>
<line x1="21.8" y1="433.1" x2="24.5" y2="433.1" stroke="#c8c8c8" stroke-width="0.6"/>
<text transform="translate(18.1,433.1) rotate(-90)" text-anchor="middle" font-size="5.6" fill="#000" stroke="#000" stroke-width="0.18">0.0</text>
<line x1="21.8" y1="450.15" x2="24.5" y2="450.15" stroke="#c8c8c8" stroke-width="0.6"/>
<text transform="translate(18.1,450.15) rotate(-90)" text-anchor="middle" font-size="5.6" fill="#000" stroke="#000" stroke-width="0.18">-0.2</text>
<line x1="21.8" y1="467.2" x2="24.5" y2="467.2" stroke="#c8c8c8" stroke-width="0.6"/>
<text transform="translate(18.1,467.2) rotate(-90)" text-anchor="middle" font-size="5.6" fill="#000" stroke="#000" stroke-width="0.18">-0.4</text>
<text transform="translate(4.7,433.1) rotate(-90)" text-anchor="middle" font-size="5.5" fill="#000" stroke="#000" stroke-width="0.18">frequency</text>
<line x1="109.9" y1="474.35" x2="109.9" y2="476.35" stroke="#c8c8c8" stroke-width="0.6"/>
<text x="110.4" y="485.75" text-anchor="middle" font-size="5.4" fill="#000" stroke="#000" stroke-width="0.18">5.0e+08</text>
<line x1="195.3" y1="474.35" x2="195.3" y2="476.35" stroke="#c8c8c8" stroke-width="0.6"/>
<text x="195.8" y="485.75" text-anchor="middle" font-size="5.4" fill="#000" stroke="#000" stroke-width="0.18">1.0e+09</text>
<line x1="280.7" y1="474.35" x2="280.7" y2="476.35" stroke="#c8c8c8" stroke-width="0.6"/>
<text x="281.2" y="485.75" text-anchor="middle" font-size="5.4" fill="#000" stroke="#000" stroke-width="0.18">1.5e+09</text>
<line x1="366.1" y1="474.35" x2="366.1" y2="476.35" stroke="#c8c8c8" stroke-width="0.6"/>
<text x="366.6" y="485.75" text-anchor="middle" font-size="5.4" fill="#000" stroke="#000" stroke-width="0.18">2.0e+09</text>
<line x1="451.5" y1="474.35" x2="451.5" y2="476.35" stroke="#c8c8c8" stroke-width="0.6"/>
<text x="452" y="485.75" text-anchor="middle" font-size="5.4" fill="#000" stroke="#000" stroke-width="0.18">2.5e+09</text>
<text x="43.5" y="470.15" text-anchor="middle" font-size="5.0" fill="#000" stroke="#000" stroke-width="0.18">1</text>
<text x="87.5" y="470.15" text-anchor="middle" font-size="5.0" fill="#000" stroke="#000" stroke-width="0.18">2</text>
<text x="127.1" y="470.15" text-anchor="middle" font-size="5.0" fill="#000" stroke="#000" stroke-width="0.18">3</text>
<text x="156.9" y="470.15" text-anchor="middle" font-size="5.0" fill="#000" stroke="#000" stroke-width="0.18">4</text>
<text x="196.7" y="470.15" text-anchor="middle" font-size="5.0" fill="#000" stroke="#000" stroke-width="0.18">5</text>
<text x="218.3" y="470.15" text-anchor="middle" font-size="5.0" fill="#000" stroke="#000" stroke-width="0.18">6</text>
<text x="251.8" y="470.15" text-anchor="middle" font-size="5.0" fill="#000" stroke="#000" stroke-width="0.18">7</text>
<text x="274.4" y="470.15" text-anchor="middle" font-size="5.0" fill="#000" stroke="#000" stroke-width="0.18">8</text>
<text x="304.6" y="470.15" text-anchor="middle" font-size="5.0" fill="#000" stroke="#000" stroke-width="0.18">9</text>
<text x="326.1" y="470.15" text-anchor="middle" font-size="5.0" fill="#000" stroke="#000" stroke-width="0.18">10</text>
<text x="346.5" y="470.15" text-anchor="middle" font-size="5.0" fill="#000" stroke="#000" stroke-width="0.18">11</text>
<text x="367.7" y="470.15" text-anchor="middle" font-size="5.0" fill="#000" stroke="#000" stroke-width="0.18">12</text>
<text x="389.2" y="470.15" text-anchor="middle" font-size="5.0" fill="#000" stroke="#000" stroke-width="0.18">13</text>
<text x="412.7" y="470.15" text-anchor="middle" font-size="5.0" fill="#000" stroke="#000" stroke-width="0.18">14</text>
<text x="429.6" y="470.15" text-anchor="middle" font-size="5.0" fill="#000" stroke="#000" stroke-width="0.18">15</text>
<text x="440.4" y="470.15" text-anchor="middle" font-size="5.0" fill="#000" stroke="#000" stroke-width="0.18">16</text>
<text x="457.3" y="470.15" text-anchor="middle" font-size="5.0" fill="#000" stroke="#000" stroke-width="0.18">17</text>
<text x="470.1" y="470.15" text-anchor="middle" font-size="5.0" fill="#000" stroke="#000" stroke-width="0.18">18</text>
<text x="485.5" y="470.15" text-anchor="middle" font-size="5.0" fill="#000" stroke="#000" stroke-width="0.18">19</text>
<text x="495.3" y="470.15" text-anchor="middle" font-size="5.0" fill="#000" stroke="#000" stroke-width="0.18">20</text>
<text x="506.3" y="470.15" text-anchor="middle" font-size="5.0" fill="#000" stroke="#000" stroke-width="0.18">21</text>
<text x="513.7" y="470.15" text-anchor="middle" font-size="5.0" fill="#000" stroke="#000" stroke-width="0.18">22</text>
<text x="270.5" y="381.7" text-anchor="middle" font-size="6.5" font-weight="bold" fill="#000">NMZL</text>
<text x="-0.2" y="385.1" font-size="12" font-weight="bold" fill="#000">D</text>
</g>
</g>
</svg></body></html>
